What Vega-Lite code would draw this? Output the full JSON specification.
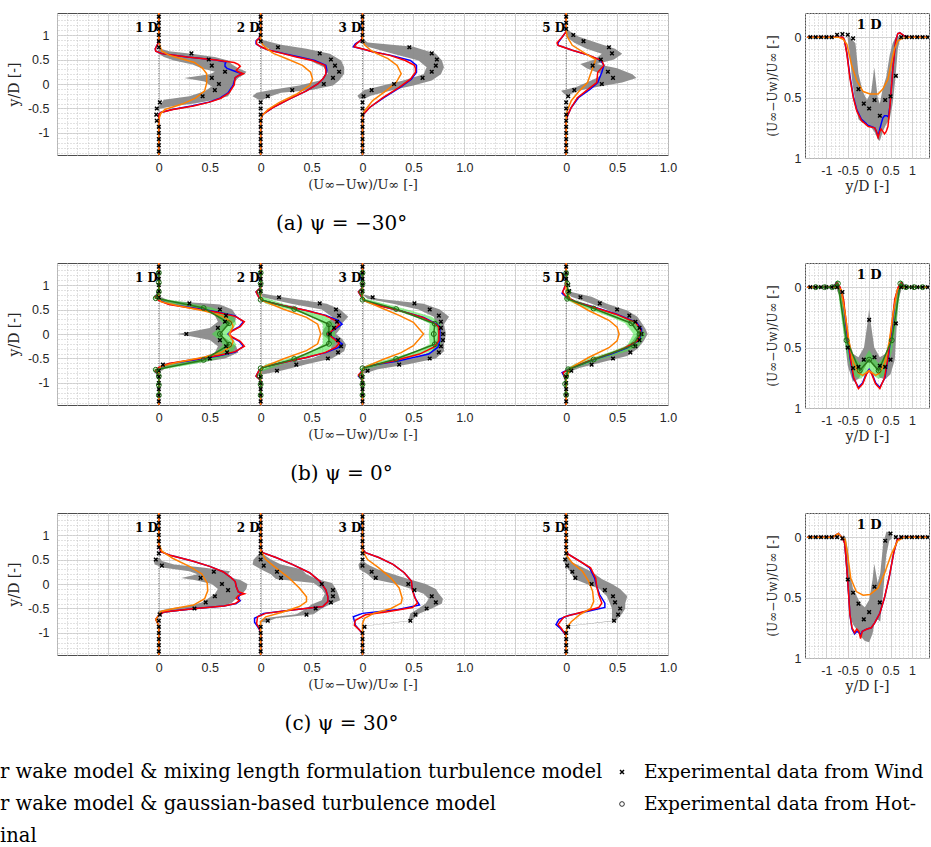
{
"$schema": "https://vega.github.io/schema/vega-lite/v6.json",
"padding": {"left": 0, "top": 9, "right": 0, "bottom": 0},
"config": {
 "view": {"stroke": "#4d4d4d", "strokeWidth": 1},
 "axis": {"labelFont": "Liberation Sans", "labelFontSize": 12.5, "labelColor": "#262626", "titleFont": "DejaVu Serif", "titleFontWeight": "normal", "titleColor": "#262626", "titleFontSize": 13},
 "title": {"font": "DejaVu Serif", "fontWeight": "normal", "color": "#000000"}
},
"datasets": {
 "lab": [{"d":1,"t":"1 D"},{"d":2,"t":"2 D"},{"d":3,"t":"3 D"},{"d":5,"t":"5 D"}],
 "leg": [{"c":0,"r":0,"t":"r wake model & mixing length formulation turbulence model"},{"c":0,"r":1,"t":"r wake model & gaussian-based turbulence model"},{"c":0,"r":2,"t":"inal"},{"c":1,"r":0,"t":"Experimental data from Wind","s":"x"},{"c":1,"r":1,"t":"Experimental data from Hot-W","s":"o"}],
 "a1": [
{"k":"G","y":-0.5,"v":-0.02,"h":0.02},{"k":"G","y":-0.45,"v":0,"h":0.15},{"k":"G","y":-0.4,"v":0.02,"h":0.35},{"k":"G","y":-0.32,"v":0.05,"h":0.55},{"k":"G","y":-0.25,"v":0.3,"h":0.68},{"k":"G","y":-0.15,"v":0.45,"h":0.71},{"k":"G","y":-0.05,"v":0.52,"h":0.71},{"k":"G","y":0.05,"v":0.45,"h":0.75},{"k":"G","y":0.12,"v":0.25,"h":0.78},{"k":"G","y":0.2,"v":0.5,"h":0.84},{"k":"G","y":0.25,"v":0.55,"h":0.86},{"k":"G","y":0.32,"v":0.42,"h":0.78},{"k":"G","y":0.4,"v":0.33,"h":0.72},{"k":"G","y":0.48,"v":0.15,"h":0.68},{"k":"G","y":0.55,"v":0.05,"h":0.55},{"k":"G","y":0.62,"v":0,"h":0.32},{"k":"G","y":0.67,"v":-0.01,"h":0.1},{"k":"G","y":0.72,"v":0,"h":0.02},
{"k":"b","y":-1.45,"v":0},{"k":"b","y":-0.62,"v":0},{"k":"b","y":-0.58,"v":0.02},{"k":"b","y":-0.52,"v":0.13},{"k":"b","y":-0.45,"v":0.32},{"k":"b","y":-0.37,"v":0.49},{"k":"b","y":-0.29,"v":0.6},{"k":"b","y":-0.18,"v":0.68},{"k":"b","y":-0.02,"v":0.73},{"k":"b","y":0.13,"v":0.75},{"k":"b","y":0.17,"v":0.78},{"k":"b","y":0.21,"v":0.82},{"k":"b","y":0.25,"v":0.76},{"k":"b","y":0.28,"v":0.72},{"k":"b","y":0.32,"v":0.67},{"k":"b","y":0.36,"v":0.65},{"k":"b","y":0.41,"v":0.65},{"k":"b","y":0.45,"v":0.66},{"k":"b","y":0.49,"v":0.56},{"k":"b","y":0.55,"v":0.28},{"k":"b","y":0.62,"v":0.03},{"k":"b","y":0.67,"v":-0.03},{"k":"b","y":0.72,"v":-0.035},{"k":"b","y":0.82,"v":-0.01},{"k":"b","y":0.95,"v":0},{"k":"b","y":1.45,"v":0},
{"k":"r","y":-1.45,"v":0},{"k":"r","y":-0.62,"v":0},{"k":"r","y":-0.58,"v":0.02},{"k":"r","y":-0.52,"v":0.14},{"k":"r","y":-0.45,"v":0.34},{"k":"r","y":-0.37,"v":0.5},{"k":"r","y":-0.29,"v":0.61},{"k":"r","y":-0.18,"v":0.69},{"k":"r","y":-0.02,"v":0.74},{"k":"r","y":0.13,"v":0.75},{"k":"r","y":0.17,"v":0.78},{"k":"r","y":0.21,"v":0.83},{"k":"r","y":0.25,"v":0.78},{"k":"r","y":0.28,"v":0.76},{"k":"r","y":0.32,"v":0.78},{"k":"r","y":0.36,"v":0.8},{"k":"r","y":0.4,"v":0.78},{"k":"r","y":0.44,"v":0.74},{"k":"r","y":0.49,"v":0.56},{"k":"r","y":0.55,"v":0.28},{"k":"r","y":0.62,"v":0.03},{"k":"r","y":0.67,"v":-0.03},{"k":"r","y":0.72,"v":-0.035},{"k":"r","y":0.82,"v":-0.01},{"k":"r","y":0.95,"v":0},{"k":"r","y":1.45,"v":0},
{"k":"o","y":-1.45,"v":0},{"k":"o","y":-0.72,"v":0},{"k":"o","y":-0.6,"v":0.02},{"k":"o","y":-0.52,"v":0.06},{"k":"o","y":-0.41,"v":0.23},{"k":"o","y":-0.29,"v":0.36},{"k":"o","y":-0.14,"v":0.45},{"k":"o","y":0.02,"v":0.47},{"k":"o","y":0.21,"v":0.47},{"k":"o","y":0.32,"v":0.43},{"k":"o","y":0.44,"v":0.35},{"k":"o","y":0.51,"v":0.23},{"k":"o","y":0.59,"v":0.1},{"k":"o","y":0.67,"v":0.03},{"k":"o","y":0.78,"v":0.01},{"k":"o","y":0.9,"v":0},{"k":"o","y":1.45,"v":0},
{"k":"x","y":-1.375,"v":0},{"k":"x","y":-1.25,"v":0},{"k":"x","y":-1.125,"v":0},{"k":"x","y":-1,"v":0},{"k":"x","y":-0.875,"v":0},{"k":"x","y":-0.75,"v":-0.02},{"k":"x","y":-0.625,"v":-0.025},{"k":"x","y":-0.5,"v":-0.02},{"k":"x","y":-0.375,"v":0.01},{"k":"x","y":-0.25,"v":0.43},{"k":"x","y":-0.125,"v":0.55},{"k":"x","y":0,"v":0.59},{"k":"x","y":0.125,"v":0.52},{"k":"x","y":0.25,"v":0.65},{"k":"x","y":0.375,"v":0.52},{"k":"x","y":0.5,"v":0.49},{"k":"x","y":0.625,"v":0.32},{"k":"x","y":0.75,"v":0},{"k":"x","y":0.875,"v":0},{"k":"x","y":1,"v":0},{"k":"x","y":1.125,"v":0},{"k":"x","y":1.25,"v":0},{"k":"x","y":1.375,"v":0}
 ],
 "a2": [
{"k":"G","y":0.9,"v":0,"h":0.02},{"k":"G","y":0.8,"v":0.02,"h":0.2},{"k":"G","y":0.72,"v":0.08,"h":0.45},{"k":"G","y":0.62,"v":0.22,"h":0.68},{"k":"G","y":0.48,"v":0.48,"h":0.79},{"k":"G","y":0.34,"v":0.62,"h":0.82},{"k":"G","y":0.21,"v":0.66,"h":0.82},{"k":"G","y":0.07,"v":0.58,"h":0.77},{"k":"G","y":-0.03,"v":0.38,"h":0.71},{"k":"G","y":-0.12,"v":0.1,"h":0.5},{"k":"G","y":-0.18,"v":-0.04,"h":0.2},{"k":"G","y":-0.25,"v":-0.08,"h":0.1},{"k":"G","y":-0.32,"v":-0.02,"h":0.02},
{"k":"b","y":-1.45,"v":0},{"k":"b","y":-0.74,"v":0},{"k":"b","y":-0.62,"v":0.02},{"k":"b","y":-0.48,"v":0.12},{"k":"b","y":-0.31,"v":0.28},{"k":"b","y":-0.14,"v":0.45},{"k":"b","y":0,"v":0.56},{"k":"b","y":0.1,"v":0.61},{"k":"b","y":0.2,"v":0.64},{"k":"b","y":0.28,"v":0.65},{"k":"b","y":0.38,"v":0.64},{"k":"b","y":0.48,"v":0.53},{"k":"b","y":0.55,"v":0.38},{"k":"b","y":0.62,"v":0.23},{"k":"b","y":0.7,"v":0.07},{"k":"b","y":0.76,"v":0},{"k":"b","y":0.82,"v":-0.045},{"k":"b","y":0.88,"v":-0.045},{"k":"b","y":0.95,"v":-0.01},{"k":"b","y":1.02,"v":0},{"k":"b","y":1.45,"v":0},
{"k":"r","y":-1.45,"v":0},{"k":"r","y":-0.74,"v":0},{"k":"r","y":-0.62,"v":0.02},{"k":"r","y":-0.48,"v":0.12},{"k":"r","y":-0.31,"v":0.28},{"k":"r","y":-0.14,"v":0.45},{"k":"r","y":0,"v":0.56},{"k":"r","y":0.1,"v":0.61},{"k":"r","y":0.2,"v":0.64},{"k":"r","y":0.28,"v":0.64},{"k":"r","y":0.38,"v":0.63},{"k":"r","y":0.48,"v":0.51},{"k":"r","y":0.55,"v":0.35},{"k":"r","y":0.62,"v":0.22},{"k":"r","y":0.7,"v":0.07},{"k":"r","y":0.76,"v":0},{"k":"r","y":0.82,"v":-0.04},{"k":"r","y":0.88,"v":-0.04},{"k":"r","y":0.95,"v":-0.01},{"k":"r","y":1.02,"v":0},{"k":"r","y":1.45,"v":0},
{"k":"o","y":-1.45,"v":0},{"k":"o","y":-0.72,"v":0},{"k":"o","y":-0.66,"v":0.01},{"k":"o","y":-0.52,"v":0.07},{"k":"o","y":-0.38,"v":0.18},{"k":"o","y":-0.21,"v":0.35},{"k":"o","y":-0.03,"v":0.48},{"k":"o","y":0.1,"v":0.51},{"k":"o","y":0.24,"v":0.49},{"k":"o","y":0.38,"v":0.41},{"k":"o","y":0.52,"v":0.25},{"k":"o","y":0.62,"v":0.13},{"k":"o","y":0.69,"v":0.08},{"k":"o","y":0.8,"v":0.02},{"k":"o","y":0.9,"v":0},{"k":"o","y":1.45,"v":0},
{"k":"x","y":-1.375,"v":0},{"k":"x","y":-1.25,"v":0},{"k":"x","y":-1.125,"v":0},{"k":"x","y":-1,"v":0},{"k":"x","y":-0.875,"v":0},{"k":"x","y":-0.75,"v":0},{"k":"x","y":-0.625,"v":0},{"k":"x","y":-0.5,"v":0},{"k":"x","y":-0.375,"v":0},{"k":"x","y":-0.25,"v":0.07},{"k":"x","y":-0.125,"v":0.31},{"k":"x","y":0,"v":0.62},{"k":"x","y":0.125,"v":0.71},{"k":"x","y":0.25,"v":0.77},{"k":"x","y":0.375,"v":0.73},{"k":"x","y":0.5,"v":0.69},{"k":"x","y":0.625,"v":0.58},{"k":"x","y":0.75,"v":0.17},{"k":"x","y":0.875,"v":0},{"k":"x","y":1,"v":0},{"k":"x","y":1.125,"v":0},{"k":"x","y":1.25,"v":0},{"k":"x","y":1.375,"v":0}
 ],
 "a3": [
{"k":"G","y":0.9,"v":0,"h":0.02},{"k":"G","y":0.85,"v":0,"h":0.05},{"k":"G","y":0.76,"v":0.05,"h":0.5},{"k":"G","y":0.62,"v":0.3,"h":0.72},{"k":"G","y":0.48,"v":0.55,"h":0.78},{"k":"G","y":0.34,"v":0.63,"h":0.8},{"k":"G","y":0.2,"v":0.6,"h":0.77},{"k":"G","y":0.07,"v":0.4,"h":0.68},{"k":"G","y":-0.03,"v":0.2,"h":0.5},{"k":"G","y":-0.12,"v":0.02,"h":0.3},{"k":"G","y":-0.24,"v":-0.05,"h":0.08},{"k":"G","y":-0.3,"v":-0.03,"h":0.02},
{"k":"b","y":-1.45,"v":0},{"k":"b","y":-0.7,"v":0},{"k":"b","y":-0.62,"v":0.01},{"k":"b","y":-0.48,"v":0.07},{"k":"b","y":-0.28,"v":0.21},{"k":"b","y":-0.07,"v":0.37},{"k":"b","y":0.1,"v":0.48},{"k":"b","y":0.24,"v":0.53},{"k":"b","y":0.32,"v":0.53},{"k":"b","y":0.38,"v":0.53},{"k":"b","y":0.48,"v":0.47},{"k":"b","y":0.59,"v":0.27},{"k":"b","y":0.66,"v":0.1},{"k":"b","y":0.7,"v":0.03},{"k":"b","y":0.76,"v":-0.09},{"k":"b","y":0.82,"v":-0.07},{"k":"b","y":0.9,"v":-0.01},{"k":"b","y":1,"v":0},{"k":"b","y":1.45,"v":0},
{"k":"r","y":-1.45,"v":0},{"k":"r","y":-0.7,"v":0},{"k":"r","y":-0.62,"v":0.01},{"k":"r","y":-0.48,"v":0.07},{"k":"r","y":-0.28,"v":0.2},{"k":"r","y":-0.07,"v":0.36},{"k":"r","y":0.1,"v":0.47},{"k":"r","y":0.24,"v":0.52},{"k":"r","y":0.32,"v":0.52},{"k":"r","y":0.38,"v":0.51},{"k":"r","y":0.48,"v":0.42},{"k":"r","y":0.59,"v":0.26},{"k":"r","y":0.66,"v":0.1},{"k":"r","y":0.7,"v":0.03},{"k":"r","y":0.76,"v":-0.08},{"k":"r","y":0.82,"v":-0.06},{"k":"r","y":0.9,"v":-0.01},{"k":"r","y":1,"v":0},{"k":"r","y":1.45,"v":0},
{"k":"o","y":-1.45,"v":0},{"k":"o","y":-0.62,"v":0},{"k":"o","y":-0.55,"v":0.02},{"k":"o","y":-0.34,"v":0.1},{"k":"o","y":-0.14,"v":0.23},{"k":"o","y":0.03,"v":0.33},{"k":"o","y":0.21,"v":0.38},{"k":"o","y":0.38,"v":0.34},{"k":"o","y":0.52,"v":0.25},{"k":"o","y":0.62,"v":0.14},{"k":"o","y":0.69,"v":0.08},{"k":"o","y":0.8,"v":0.02},{"k":"o","y":0.9,"v":0},{"k":"o","y":1.45,"v":0},
{"k":"x","y":-1.375,"v":0},{"k":"x","y":-1.25,"v":0},{"k":"x","y":-1.125,"v":0},{"k":"x","y":-1,"v":0},{"k":"x","y":-0.875,"v":0},{"k":"x","y":-0.75,"v":0},{"k":"x","y":-0.625,"v":0},{"k":"x","y":-0.5,"v":0},{"k":"x","y":-0.375,"v":0},{"k":"x","y":-0.25,"v":0.01},{"k":"x","y":-0.125,"v":0.09},{"k":"x","y":0,"v":0.31},{"k":"x","y":0.125,"v":0.59},{"k":"x","y":0.25,"v":0.68},{"k":"x","y":0.375,"v":0.72},{"k":"x","y":0.5,"v":0.73},{"k":"x","y":0.625,"v":0.68},{"k":"x","y":0.75,"v":0.46},{"k":"x","y":0.875,"v":0},{"k":"x","y":1,"v":0},{"k":"x","y":1.125,"v":0},{"k":"x","y":1.25,"v":0},{"k":"x","y":1.375,"v":0}
 ],
 "a5": [
{"k":"G","y":1.1,"v":0,"h":0.02},{"k":"G","y":0.97,"v":0,"h":0.12},{"k":"G","y":0.84,"v":0.08,"h":0.3},{"k":"G","y":0.72,"v":0.2,"h":0.48},{"k":"G","y":0.62,"v":0.35,"h":0.55},{"k":"G","y":0.5,"v":0.28,"h":0.47},{"k":"G","y":0.41,"v":0.14,"h":0.3},{"k":"G","y":0.32,"v":0.2,"h":0.5},{"k":"G","y":0.2,"v":0.35,"h":0.65},{"k":"G","y":0.12,"v":0.3,"h":0.69},{"k":"G","y":0.03,"v":0.2,"h":0.55},{"k":"G","y":-0.06,"v":0.1,"h":0.3},{"k":"G","y":-0.14,"v":-0.05,"h":0.12},{"k":"G","y":-0.22,"v":-0.01,"h":0.03},
{"k":"b","y":-1.45,"v":0},{"k":"b","y":-0.75,"v":0},{"k":"b","y":-0.66,"v":0.01},{"k":"b","y":-0.48,"v":0.05},{"k":"b","y":-0.28,"v":0.12},{"k":"b","y":-0.1,"v":0.24},{"k":"b","y":0.03,"v":0.31},{"k":"b","y":0.24,"v":0.35},{"k":"b","y":0.38,"v":0.37},{"k":"b","y":0.48,"v":0.34},{"k":"b","y":0.59,"v":0.22},{"k":"b","y":0.69,"v":0.06},{"k":"b","y":0.79,"v":-0.08},{"k":"b","y":0.84,"v":-0.08},{"k":"b","y":0.97,"v":-0.035},{"k":"b","y":1.07,"v":0},{"k":"b","y":1.45,"v":0},
{"k":"r","y":-1.45,"v":0},{"k":"r","y":-0.75,"v":0},{"k":"r","y":-0.66,"v":0.01},{"k":"r","y":-0.48,"v":0.05},{"k":"r","y":-0.28,"v":0.11},{"k":"r","y":-0.1,"v":0.22},{"k":"r","y":0.03,"v":0.3},{"k":"r","y":0.24,"v":0.31},{"k":"r","y":0.38,"v":0.37},{"k":"r","y":0.48,"v":0.35},{"k":"r","y":0.59,"v":0.22},{"k":"r","y":0.69,"v":0.06},{"k":"r","y":0.79,"v":-0.08},{"k":"r","y":0.84,"v":-0.09},{"k":"r","y":0.97,"v":-0.035},{"k":"r","y":1.07,"v":0},{"k":"r","y":1.45,"v":0},
{"k":"o","y":-1.45,"v":0},{"k":"o","y":-0.65,"v":0},{"k":"o","y":-0.55,"v":0.01},{"k":"o","y":-0.34,"v":0.05},{"k":"o","y":-0.14,"v":0.13},{"k":"o","y":0.03,"v":0.21},{"k":"o","y":0.21,"v":0.24},{"k":"o","y":0.38,"v":0.27},{"k":"o","y":0.5,"v":0.29},{"k":"o","y":0.62,"v":0.19},{"k":"o","y":0.79,"v":0.06},{"k":"o","y":0.97,"v":0.01},{"k":"o","y":1.1,"v":0},{"k":"o","y":1.45,"v":0},
{"k":"x","y":-1.375,"v":0},{"k":"x","y":-1.25,"v":0},{"k":"x","y":-1.125,"v":0},{"k":"x","y":-1,"v":0},{"k":"x","y":-0.875,"v":0},{"k":"x","y":-0.75,"v":0},{"k":"x","y":-0.625,"v":0},{"k":"x","y":-0.5,"v":0},{"k":"x","y":-0.375,"v":0},{"k":"x","y":-0.25,"v":0.02},{"k":"x","y":-0.125,"v":0.08},{"k":"x","y":0,"v":0.35},{"k":"x","y":0.125,"v":0.46},{"k":"x","y":0.25,"v":0.41},{"k":"x","y":0.375,"v":0.26},{"k":"x","y":0.5,"v":0.34},{"k":"x","y":0.625,"v":0.45},{"k":"x","y":0.75,"v":0.42},{"k":"x","y":0.875,"v":0.17},{"k":"x","y":1,"v":0.07},{"k":"x","y":1.125,"v":0},{"k":"x","y":1.25,"v":0},{"k":"x","y":1.375,"v":0}
 ],
 "b1": [
{"k":"G","y":-0.75,"v":-0.02,"h":0.03},{"k":"G","y":-0.68,"v":0,"h":0.08},{"k":"G","y":-0.6,"v":0.05,"h":0.35},{"k":"G","y":-0.5,"v":0.4,"h":0.65},{"k":"G","y":-0.38,"v":0.55,"h":0.78},{"k":"G","y":-0.25,"v":0.58,"h":0.76},{"k":"G","y":-0.12,"v":0.5,"h":0.68},{"k":"G","y":-0.04,"v":0.3,"h":0.62},{"k":"G","y":0,"v":0.18,"h":0.62},{"k":"G","y":0.04,"v":0.3,"h":0.6},{"k":"G","y":0.12,"v":0.5,"h":0.65},{"k":"G","y":0.25,"v":0.58,"h":0.75},{"k":"G","y":0.38,"v":0.55,"h":0.76},{"k":"G","y":0.5,"v":0.45,"h":0.72},{"k":"G","y":0.6,"v":0.15,"h":0.6},{"k":"G","y":0.68,"v":0,"h":0.1},{"k":"G","y":0.75,"v":-0.02,"h":0.03},
{"k":"E","y":-0.8,"v":-0.04,"h":0.02},{"k":"E","y":-0.73,"v":-0.06,"h":0.01},{"k":"E","y":-0.65,"v":0.05,"h":0.25},{"k":"E","y":-0.54,"v":0.36,"h":0.52},{"k":"E","y":-0.4,"v":0.55,"h":0.72},{"k":"E","y":-0.22,"v":0.63,"h":0.76},{"k":"E","y":-0.1,"v":0.58,"h":0.73},{"k":"E","y":0,"v":0.52,"h":0.68},{"k":"E","y":0.1,"v":0.58,"h":0.73},{"k":"E","y":0.22,"v":0.63,"h":0.76},{"k":"E","y":0.4,"v":0.55,"h":0.72},{"k":"E","y":0.54,"v":0.36,"h":0.52},{"k":"E","y":0.65,"v":0.05,"h":0.25},{"k":"E","y":0.73,"v":-0.06,"h":0.01},{"k":"E","y":0.8,"v":-0.04,"h":0.02},
{"k":"b","y":-1.45,"v":0},{"k":"b","y":-0.86,"v":0},{"k":"b","y":-0.76,"v":-0.035},{"k":"b","y":-0.69,"v":0},{"k":"b","y":-0.61,"v":0.1},{"k":"b","y":-0.53,"v":0.34},{"k":"b","y":-0.45,"v":0.58},{"k":"b","y":-0.37,"v":0.75},{"k":"b","y":-0.25,"v":0.83},{"k":"b","y":-0.15,"v":0.79},{"k":"b","y":-0.06,"v":0.71},{"k":"b","y":0,"v":0.68},{"k":"b","y":0.06,"v":0.71},{"k":"b","y":0.15,"v":0.79},{"k":"b","y":0.25,"v":0.83},{"k":"b","y":0.37,"v":0.75},{"k":"b","y":0.45,"v":0.58},{"k":"b","y":0.53,"v":0.34},{"k":"b","y":0.61,"v":0.1},{"k":"b","y":0.69,"v":0},{"k":"b","y":0.76,"v":-0.035},{"k":"b","y":0.86,"v":0},{"k":"b","y":1.45,"v":0},
{"k":"r","y":-1.45,"v":0},{"k":"r","y":-0.85,"v":0},{"k":"r","y":-0.75,"v":-0.035},{"k":"r","y":-0.68,"v":0},{"k":"r","y":-0.6,"v":0.1},{"k":"r","y":-0.52,"v":0.34},{"k":"r","y":-0.44,"v":0.58},{"k":"r","y":-0.36,"v":0.75},{"k":"r","y":-0.25,"v":0.84},{"k":"r","y":-0.15,"v":0.8},{"k":"r","y":-0.06,"v":0.72},{"k":"r","y":0,"v":0.69},{"k":"r","y":0.06,"v":0.72},{"k":"r","y":0.15,"v":0.8},{"k":"r","y":0.25,"v":0.84},{"k":"r","y":0.36,"v":0.75},{"k":"r","y":0.44,"v":0.58},{"k":"r","y":0.52,"v":0.34},{"k":"r","y":0.6,"v":0.1},{"k":"r","y":0.68,"v":0},{"k":"r","y":0.75,"v":-0.035},{"k":"r","y":0.85,"v":0},{"k":"r","y":1.45,"v":0},
{"k":"o","y":-1.45,"v":0},{"k":"o","y":-0.75,"v":0},{"k":"o","y":-0.66,"v":0.02},{"k":"o","y":-0.57,"v":0.2},{"k":"o","y":-0.47,"v":0.45},{"k":"o","y":-0.37,"v":0.62},{"k":"o","y":-0.25,"v":0.71},{"k":"o","y":-0.15,"v":0.73},{"k":"o","y":0,"v":0.69},{"k":"o","y":0.15,"v":0.73},{"k":"o","y":0.25,"v":0.71},{"k":"o","y":0.37,"v":0.62},{"k":"o","y":0.47,"v":0.45},{"k":"o","y":0.57,"v":0.2},{"k":"o","y":0.66,"v":0.02},{"k":"o","y":0.75,"v":0},{"k":"o","y":1.45,"v":0},
{"k":"c","y":-1.25,"v":0},{"k":"c","y":-1.04,"v":0},{"k":"c","y":-0.86,"v":0},{"k":"c","y":-0.73,"v":-0.03},{"k":"c","y":-0.53,"v":0.44},{"k":"c","y":-0.22,"v":0.69},{"k":"c","y":0,"v":0.6},{"k":"c","y":0.22,"v":0.69},{"k":"c","y":0.53,"v":0.44},{"k":"c","y":0.73,"v":-0.03},{"k":"c","y":0.86,"v":0},{"k":"c","y":1.05,"v":0},{"k":"c","y":1.25,"v":0},
{"k":"x","y":-1.375,"v":0},{"k":"x","y":-1.25,"v":0},{"k":"x","y":-1.125,"v":0},{"k":"x","y":-1,"v":0},{"k":"x","y":-0.875,"v":0},{"k":"x","y":-0.75,"v":0},{"k":"x","y":-0.625,"v":0.04},{"k":"x","y":-0.5,"v":0.5},{"k":"x","y":-0.375,"v":0.67},{"k":"x","y":-0.25,"v":0.66},{"k":"x","y":-0.125,"v":0.6},{"k":"x","y":0,"v":0.27},{"k":"x","y":0.125,"v":0.58},{"k":"x","y":0.25,"v":0.65},{"k":"x","y":0.375,"v":0.66},{"k":"x","y":0.5,"v":0.6},{"k":"x","y":0.625,"v":0.3},{"k":"x","y":0.75,"v":0},{"k":"x","y":0.875,"v":0},{"k":"x","y":1,"v":0},{"k":"x","y":1.125,"v":0},{"k":"x","y":1.25,"v":0},{"k":"x","y":1.375,"v":0}
 ],
 "b2": [
{"k":"G","y":0.82,"v":0,"h":0.03},{"k":"G","y":0.75,"v":0.02,"h":0.22},{"k":"G","y":0.62,"v":0.3,"h":0.65},{"k":"G","y":0.5,"v":0.6,"h":0.78},{"k":"G","y":0.35,"v":0.7,"h":0.86},{"k":"G","y":0.22,"v":0.66,"h":0.8},{"k":"G","y":0.1,"v":0.62,"h":0.78},{"k":"G","y":0,"v":0.6,"h":0.74},{"k":"G","y":-0.1,"v":0.66,"h":0.8},{"k":"G","y":-0.22,"v":0.7,"h":0.84},{"k":"G","y":-0.35,"v":0.68,"h":0.82},{"k":"G","y":-0.5,"v":0.5,"h":0.7},{"k":"G","y":-0.62,"v":0.15,"h":0.45},{"k":"G","y":-0.75,"v":0,"h":0.2},{"k":"G","y":-0.82,"v":0,"h":0.03},
{"k":"E","y":-0.75,"v":-0.03,"h":0.03},{"k":"E","y":-0.62,"v":0.05,"h":0.22},{"k":"E","y":-0.51,"v":0.26,"h":0.41},{"k":"E","y":-0.35,"v":0.52,"h":0.65},{"k":"E","y":-0.2,"v":0.61,"h":0.73},{"k":"E","y":0,"v":0.61,"h":0.73},{"k":"E","y":0.2,"v":0.61,"h":0.73},{"k":"E","y":0.35,"v":0.52,"h":0.65},{"k":"E","y":0.51,"v":0.26,"h":0.41},{"k":"E","y":0.62,"v":0.05,"h":0.22},{"k":"E","y":0.75,"v":-0.03,"h":0.03},
{"k":"b","y":-1.45,"v":0},{"k":"b","y":-0.95,"v":0},{"k":"b","y":-0.86,"v":-0.045},{"k":"b","y":-0.76,"v":-0.02},{"k":"b","y":-0.68,"v":0.02},{"k":"b","y":-0.58,"v":0.22},{"k":"b","y":-0.48,"v":0.45},{"k":"b","y":-0.38,"v":0.64},{"k":"b","y":-0.28,"v":0.76},{"k":"b","y":-0.2,"v":0.8},{"k":"b","y":-0.1,"v":0.73},{"k":"b","y":0,"v":0.66},{"k":"b","y":0.1,"v":0.73},{"k":"b","y":0.2,"v":0.8},{"k":"b","y":0.28,"v":0.76},{"k":"b","y":0.38,"v":0.64},{"k":"b","y":0.48,"v":0.45},{"k":"b","y":0.58,"v":0.22},{"k":"b","y":0.68,"v":0.02},{"k":"b","y":0.76,"v":-0.02},{"k":"b","y":0.86,"v":-0.045},{"k":"b","y":0.95,"v":0},{"k":"b","y":1.45,"v":0},
{"k":"r","y":-1.45,"v":0},{"k":"r","y":-0.95,"v":0},{"k":"r","y":-0.86,"v":-0.045},{"k":"r","y":-0.76,"v":-0.02},{"k":"r","y":-0.68,"v":0.02},{"k":"r","y":-0.58,"v":0.22},{"k":"r","y":-0.48,"v":0.45},{"k":"r","y":-0.38,"v":0.63},{"k":"r","y":-0.27,"v":0.74},{"k":"r","y":-0.19,"v":0.77},{"k":"r","y":-0.1,"v":0.72},{"k":"r","y":0,"v":0.66},{"k":"r","y":0.1,"v":0.72},{"k":"r","y":0.19,"v":0.77},{"k":"r","y":0.27,"v":0.74},{"k":"r","y":0.38,"v":0.63},{"k":"r","y":0.48,"v":0.45},{"k":"r","y":0.58,"v":0.22},{"k":"r","y":0.68,"v":0.02},{"k":"r","y":0.76,"v":-0.02},{"k":"r","y":0.86,"v":-0.045},{"k":"r","y":0.95,"v":0},{"k":"r","y":1.45,"v":0},
{"k":"o","y":-1.45,"v":0},{"k":"o","y":-0.75,"v":0},{"k":"o","y":-0.68,"v":0.02},{"k":"o","y":-0.51,"v":0.22},{"k":"o","y":-0.34,"v":0.45},{"k":"o","y":-0.2,"v":0.56},{"k":"o","y":0,"v":0.59},{"k":"o","y":0.2,"v":0.56},{"k":"o","y":0.34,"v":0.45},{"k":"o","y":0.51,"v":0.22},{"k":"o","y":0.68,"v":0.02},{"k":"o","y":0.75,"v":0},{"k":"o","y":1.45,"v":0},
{"k":"c","y":-1.25,"v":0},{"k":"c","y":-1.03,"v":0},{"k":"c","y":-0.86,"v":-0.01},{"k":"c","y":-0.7,"v":0},{"k":"c","y":-0.51,"v":0.33},{"k":"c","y":-0.2,"v":0.67},{"k":"c","y":0,"v":0.67},{"k":"c","y":0.2,"v":0.67},{"k":"c","y":0.51,"v":0.33},{"k":"c","y":0.7,"v":0},{"k":"c","y":0.86,"v":-0.01},{"k":"c","y":1.03,"v":0},{"k":"c","y":1.25,"v":0},
{"k":"x","y":-1.375,"v":0},{"k":"x","y":-1.25,"v":0},{"k":"x","y":-1.125,"v":0},{"k":"x","y":-1,"v":0},{"k":"x","y":-0.875,"v":0},{"k":"x","y":-0.75,"v":0.16},{"k":"x","y":-0.625,"v":0.35},{"k":"x","y":-0.5,"v":0.66},{"k":"x","y":-0.375,"v":0.76},{"k":"x","y":-0.25,"v":0.79},{"k":"x","y":-0.125,"v":0.76},{"k":"x","y":0,"v":0.68},{"k":"x","y":0.125,"v":0.72},{"k":"x","y":0.25,"v":0.75},{"k":"x","y":0.375,"v":0.77},{"k":"x","y":0.5,"v":0.74},{"k":"x","y":0.625,"v":0.58},{"k":"x","y":0.75,"v":0.18},{"k":"x","y":0.875,"v":0},{"k":"x","y":1,"v":0},{"k":"x","y":1.125,"v":0},{"k":"x","y":1.25,"v":0},{"k":"x","y":1.375,"v":0}
 ],
 "b3": [
{"k":"G","y":-0.8,"v":0,"h":0.03},{"k":"G","y":-0.72,"v":0,"h":0.15},{"k":"G","y":-0.62,"v":0.15,"h":0.45},{"k":"G","y":-0.5,"v":0.5,"h":0.72},{"k":"G","y":-0.35,"v":0.68,"h":0.8},{"k":"G","y":-0.2,"v":0.72,"h":0.8},{"k":"G","y":0,"v":0.74,"h":0.82},{"k":"G","y":0.2,"v":0.72,"h":0.8},{"k":"G","y":0.35,"v":0.7,"h":0.85},{"k":"G","y":0.5,"v":0.55,"h":0.76},{"k":"G","y":0.62,"v":0.3,"h":0.6},{"k":"G","y":0.72,"v":0.05,"h":0.15},{"k":"G","y":0.8,"v":0,"h":0.03},
{"k":"E","y":-0.72,"v":-0.03,"h":0.03},{"k":"E","y":-0.62,"v":0.06,"h":0.22},{"k":"E","y":-0.51,"v":0.26,"h":0.42},{"k":"E","y":-0.35,"v":0.52,"h":0.68},{"k":"E","y":-0.21,"v":0.66,"h":0.77},{"k":"E","y":0,"v":0.65,"h":0.76},{"k":"E","y":0.21,"v":0.66,"h":0.77},{"k":"E","y":0.35,"v":0.52,"h":0.68},{"k":"E","y":0.51,"v":0.26,"h":0.42},{"k":"E","y":0.62,"v":0.06,"h":0.22},{"k":"E","y":0.72,"v":-0.03,"h":0.03},
{"k":"b","y":-1.45,"v":0},{"k":"b","y":-0.95,"v":0},{"k":"b","y":-0.86,"v":-0.04},{"k":"b","y":-0.76,"v":-0.01},{"k":"b","y":-0.68,"v":0.02},{"k":"b","y":-0.62,"v":0.15},{"k":"b","y":-0.55,"v":0.35},{"k":"b","y":-0.41,"v":0.65},{"k":"b","y":-0.27,"v":0.74},{"k":"b","y":-0.14,"v":0.76},{"k":"b","y":0,"v":0.76},{"k":"b","y":0.14,"v":0.76},{"k":"b","y":0.2,"v":0.73},{"k":"b","y":0.34,"v":0.6},{"k":"b","y":0.48,"v":0.36},{"k":"b","y":0.58,"v":0.16},{"k":"b","y":0.68,"v":0.02},{"k":"b","y":0.76,"v":-0.01},{"k":"b","y":0.86,"v":-0.04},{"k":"b","y":0.95,"v":0},{"k":"b","y":1.45,"v":0},
{"k":"r","y":-1.45,"v":0},{"k":"r","y":-0.95,"v":0},{"k":"r","y":-0.84,"v":-0.04},{"k":"r","y":-0.75,"v":0},{"k":"r","y":-0.68,"v":0.02},{"k":"r","y":-0.62,"v":0.14},{"k":"r","y":-0.55,"v":0.3},{"k":"r","y":-0.41,"v":0.56},{"k":"r","y":-0.27,"v":0.7},{"k":"r","y":-0.14,"v":0.75},{"k":"r","y":0,"v":0.75},{"k":"r","y":0.14,"v":0.75},{"k":"r","y":0.2,"v":0.72},{"k":"r","y":0.34,"v":0.59},{"k":"r","y":0.48,"v":0.36},{"k":"r","y":0.58,"v":0.16},{"k":"r","y":0.68,"v":0.02},{"k":"r","y":0.76,"v":-0.01},{"k":"r","y":0.86,"v":-0.04},{"k":"r","y":0.95,"v":0},{"k":"r","y":1.45,"v":0},
{"k":"o","y":-1.45,"v":0},{"k":"o","y":-0.75,"v":0},{"k":"o","y":-0.68,"v":0.02},{"k":"o","y":-0.52,"v":0.2},{"k":"o","y":-0.38,"v":0.38},{"k":"o","y":-0.24,"v":0.5},{"k":"o","y":0,"v":0.6},{"k":"o","y":0.24,"v":0.5},{"k":"o","y":0.38,"v":0.36},{"k":"o","y":0.52,"v":0.2},{"k":"o","y":0.68,"v":0.02},{"k":"o","y":0.75,"v":0},{"k":"o","y":1.45,"v":0},
{"k":"c","y":-1.25,"v":0},{"k":"c","y":-1.03,"v":0},{"k":"c","y":-0.86,"v":-0.01},{"k":"c","y":-0.7,"v":0},{"k":"c","y":-0.51,"v":0.33},{"k":"c","y":-0.21,"v":0.71},{"k":"c","y":0,"v":0.7},{"k":"c","y":0.21,"v":0.71},{"k":"c","y":0.51,"v":0.33},{"k":"c","y":0.7,"v":0},{"k":"c","y":0.86,"v":-0.01},{"k":"c","y":1.03,"v":0},{"k":"c","y":1.25,"v":0},
{"k":"x","y":-1.375,"v":0},{"k":"x","y":-1.25,"v":0},{"k":"x","y":-1.125,"v":0},{"k":"x","y":-1,"v":0},{"k":"x","y":-0.875,"v":0},{"k":"x","y":-0.75,"v":0.05},{"k":"x","y":-0.625,"v":0.36},{"k":"x","y":-0.5,"v":0.66},{"k":"x","y":-0.375,"v":0.75},{"k":"x","y":-0.25,"v":0.77},{"k":"x","y":-0.125,"v":0.79},{"k":"x","y":0,"v":0.79},{"k":"x","y":0.125,"v":0.77},{"k":"x","y":0.25,"v":0.77},{"k":"x","y":0.375,"v":0.75},{"k":"x","y":0.5,"v":0.66},{"k":"x","y":0.625,"v":0.51},{"k":"x","y":0.75,"v":0.1},{"k":"x","y":0.875,"v":0},{"k":"x","y":1,"v":0},{"k":"x","y":1.125,"v":0},{"k":"x","y":1.25,"v":0},{"k":"x","y":1.375,"v":0}
 ],
 "b5": [
{"k":"G","y":0.86,"v":0,"h":0.05},{"k":"G","y":0.76,"v":0.05,"h":0.25},{"k":"G","y":0.62,"v":0.25,"h":0.4},{"k":"G","y":0.48,"v":0.42,"h":0.6},{"k":"G","y":0.35,"v":0.55,"h":0.7},{"k":"G","y":0.2,"v":0.65,"h":0.75},{"k":"G","y":0.1,"v":0.7,"h":0.78},{"k":"G","y":0,"v":0.7,"h":0.8},{"k":"G","y":-0.15,"v":0.65,"h":0.76},{"k":"G","y":-0.3,"v":0.55,"h":0.7},{"k":"G","y":-0.45,"v":0.4,"h":0.6},{"k":"G","y":-0.55,"v":0.2,"h":0.4},{"k":"G","y":-0.7,"v":0,"h":0.12},{"k":"G","y":-0.78,"v":0,"h":0.03},
{"k":"E","y":-0.8,"v":-0.02,"h":0.04},{"k":"E","y":-0.72,"v":-0.01,"h":0.06},{"k":"E","y":-0.62,"v":0.08,"h":0.2},{"k":"E","y":-0.52,"v":0.2,"h":0.34},{"k":"E","y":-0.35,"v":0.45,"h":0.6},{"k":"E","y":-0.23,"v":0.6,"h":0.72},{"k":"E","y":0,"v":0.66,"h":0.78},{"k":"E","y":0.22,"v":0.58,"h":0.7},{"k":"E","y":0.35,"v":0.43,"h":0.58},{"k":"E","y":0.52,"v":0.2,"h":0.34},{"k":"E","y":0.62,"v":0.08,"h":0.2},{"k":"E","y":0.72,"v":-0.02,"h":0.05},{"k":"E","y":0.8,"v":-0.02,"h":0.03},
{"k":"b","y":-1.45,"v":0},{"k":"b","y":-1,"v":0},{"k":"b","y":-0.9,"v":-0.01},{"k":"b","y":-0.79,"v":-0.04},{"k":"b","y":-0.69,"v":0.06},{"k":"b","y":-0.55,"v":0.23},{"k":"b","y":-0.41,"v":0.44},{"k":"b","y":-0.28,"v":0.6},{"k":"b","y":-0.14,"v":0.71},{"k":"b","y":0,"v":0.74},{"k":"b","y":0.1,"v":0.74},{"k":"b","y":0.24,"v":0.69},{"k":"b","y":0.41,"v":0.49},{"k":"b","y":0.55,"v":0.27},{"k":"b","y":0.66,"v":0.09},{"k":"b","y":0.76,"v":0},{"k":"b","y":0.83,"v":-0.04},{"k":"b","y":0.93,"v":-0.02},{"k":"b","y":1.03,"v":0},{"k":"b","y":1.45,"v":0},
{"k":"r","y":-1.45,"v":0},{"k":"r","y":-1,"v":0},{"k":"r","y":-0.9,"v":-0.01},{"k":"r","y":-0.79,"v":-0.03},{"k":"r","y":-0.69,"v":0.06},{"k":"r","y":-0.55,"v":0.22},{"k":"r","y":-0.41,"v":0.42},{"k":"r","y":-0.28,"v":0.58},{"k":"r","y":-0.14,"v":0.7},{"k":"r","y":0,"v":0.73},{"k":"r","y":0.1,"v":0.73},{"k":"r","y":0.24,"v":0.68},{"k":"r","y":0.41,"v":0.48},{"k":"r","y":0.55,"v":0.26},{"k":"r","y":0.66,"v":0.09},{"k":"r","y":0.76,"v":0},{"k":"r","y":0.86,"v":-0.035},{"k":"r","y":0.93,"v":-0.02},{"k":"r","y":1.03,"v":0},{"k":"r","y":1.45,"v":0},
{"k":"o","y":-1.45,"v":0},{"k":"o","y":-0.9,"v":0},{"k":"o","y":-0.69,"v":0.045},{"k":"o","y":-0.48,"v":0.22},{"k":"o","y":-0.28,"v":0.42},{"k":"o","y":-0.14,"v":0.5},{"k":"o","y":0,"v":0.52},{"k":"o","y":0.14,"v":0.5},{"k":"o","y":0.28,"v":0.42},{"k":"o","y":0.48,"v":0.22},{"k":"o","y":0.69,"v":0.045},{"k":"o","y":0.9,"v":0},{"k":"o","y":1.45,"v":0},
{"k":"c","y":-1.24,"v":0},{"k":"c","y":-1.02,"v":-0.01},{"k":"c","y":-0.86,"v":0},{"k":"c","y":-0.72,"v":0.02},{"k":"c","y":-0.52,"v":0.27},{"k":"c","y":-0.23,"v":0.66},{"k":"c","y":0,"v":0.72},{"k":"c","y":0.22,"v":0.64},{"k":"c","y":0.52,"v":0.27},{"k":"c","y":0.72,"v":0.01},{"k":"c","y":0.86,"v":0.02},{"k":"c","y":1.03,"v":0.01},{"k":"c","y":1.24,"v":0},
{"k":"x","y":-1.375,"v":0},{"k":"x","y":-1.25,"v":0},{"k":"x","y":-1.125,"v":0},{"k":"x","y":-1,"v":0},{"k":"x","y":-0.875,"v":0},{"k":"x","y":-0.75,"v":0.05},{"k":"x","y":-0.625,"v":0.25},{"k":"x","y":-0.5,"v":0.46},{"k":"x","y":-0.375,"v":0.63},{"k":"x","y":-0.25,"v":0.68},{"k":"x","y":-0.125,"v":0.72},{"k":"x","y":0,"v":0.74},{"k":"x","y":0.125,"v":0.72},{"k":"x","y":0.25,"v":0.68},{"k":"x","y":0.375,"v":0.62},{"k":"x","y":0.5,"v":0.5},{"k":"x","y":0.625,"v":0.33},{"k":"x","y":0.75,"v":0.14},{"k":"x","y":0.875,"v":0.03},{"k":"x","y":1,"v":0.02},{"k":"x","y":1.125,"v":0},{"k":"x","y":1.25,"v":0},{"k":"x","y":1.375,"v":0}
 ],
 "c1": [
{"k":"G","y":-0.6,"v":-0.02,"h":0.02},{"k":"G","y":-0.55,"v":0,"h":0.2},{"k":"G","y":-0.5,"v":0.1,"h":0.45},{"k":"G","y":-0.45,"v":0.3,"h":0.65},{"k":"G","y":-0.38,"v":0.42,"h":0.72},{"k":"G","y":-0.3,"v":0.48,"h":0.76},{"k":"G","y":-0.2,"v":0.55,"h":0.82},{"k":"G","y":-0.1,"v":0.58,"h":0.86},{"k":"G","y":0,"v":0.52,"h":0.87},{"k":"G","y":0.08,"v":0.35,"h":0.8},{"k":"G","y":0.12,"v":0.22,"h":0.72},{"k":"G","y":0.2,"v":0.38,"h":0.68},{"k":"G","y":0.26,"v":0.3,"h":0.7},{"k":"G","y":0.33,"v":0.05,"h":0.45},{"k":"G","y":0.4,"v":-0.04,"h":0.15},{"k":"G","y":0.47,"v":-0.05,"h":0.03},{"k":"G","y":0.53,"v":-0.02,"h":0.01},
{"k":"b","y":-1.45,"v":0},{"k":"b","y":-0.85,"v":0},{"k":"b","y":-0.72,"v":-0.03},{"k":"b","y":-0.64,"v":0},{"k":"b","y":-0.57,"v":0.05},{"k":"b","y":-0.5,"v":0.36},{"k":"b","y":-0.45,"v":0.64},{"k":"b","y":-0.4,"v":0.76},{"k":"b","y":-0.34,"v":0.8},{"k":"b","y":-0.29,"v":0.78},{"k":"b","y":-0.24,"v":0.79},{"k":"b","y":-0.2,"v":0.81},{"k":"b","y":-0.16,"v":0.78},{"k":"b","y":-0.05,"v":0.76},{"k":"b","y":0.05,"v":0.75},{"k":"b","y":0.13,"v":0.71},{"k":"b","y":0.25,"v":0.63},{"k":"b","y":0.36,"v":0.5},{"k":"b","y":0.47,"v":0.33},{"k":"b","y":0.58,"v":0.12},{"k":"b","y":0.66,"v":0.02},{"k":"b","y":0.78,"v":0},{"k":"b","y":1.45,"v":0},
{"k":"r","y":-1.45,"v":0},{"k":"r","y":-0.85,"v":0},{"k":"r","y":-0.72,"v":-0.03},{"k":"r","y":-0.64,"v":0},{"k":"r","y":-0.57,"v":0.05},{"k":"r","y":-0.5,"v":0.36},{"k":"r","y":-0.45,"v":0.64},{"k":"r","y":-0.4,"v":0.75},{"k":"r","y":-0.34,"v":0.79},{"k":"r","y":-0.29,"v":0.76},{"k":"r","y":-0.24,"v":0.78},{"k":"r","y":-0.2,"v":0.84},{"k":"r","y":-0.16,"v":0.78},{"k":"r","y":-0.05,"v":0.76},{"k":"r","y":0.05,"v":0.75},{"k":"r","y":0.13,"v":0.71},{"k":"r","y":0.25,"v":0.63},{"k":"r","y":0.36,"v":0.5},{"k":"r","y":0.47,"v":0.33},{"k":"r","y":0.58,"v":0.12},{"k":"r","y":0.66,"v":0.02},{"k":"r","y":0.78,"v":0},{"k":"r","y":1.45,"v":0},
{"k":"o","y":-1.45,"v":0},{"k":"o","y":-0.85,"v":0},{"k":"o","y":-0.72,"v":-0.03},{"k":"o","y":-0.64,"v":0},{"k":"o","y":-0.56,"v":0.02},{"k":"o","y":-0.5,"v":0.15},{"k":"o","y":-0.43,"v":0.34},{"k":"o","y":-0.3,"v":0.45},{"k":"o","y":-0.14,"v":0.48},{"k":"o","y":0.02,"v":0.475},{"k":"o","y":0.21,"v":0.42},{"k":"o","y":0.36,"v":0.3},{"k":"o","y":0.52,"v":0.14},{"k":"o","y":0.67,"v":0.03},{"k":"o","y":0.82,"v":0},{"k":"o","y":1.45,"v":0},
{"k":"x","y":-1.375,"v":0},{"k":"x","y":-1.25,"v":0},{"k":"x","y":-1.125,"v":0},{"k":"x","y":-1,"v":0},{"k":"x","y":-0.875,"v":0},{"k":"x","y":-0.75,"v":0},{"k":"x","y":-0.625,"v":0.01},{"k":"x","y":-0.5,"v":0.35},{"k":"x","y":-0.375,"v":0.46},{"k":"x","y":-0.25,"v":0.55},{"k":"x","y":-0.125,"v":0.68},{"k":"x","y":0,"v":0.62},{"k":"x","y":0.125,"v":0.41},{"k":"x","y":0.25,"v":0.54},{"k":"x","y":0.375,"v":0.03},{"k":"x","y":0.5,"v":-0.03},{"k":"x","y":0.625,"v":0},{"k":"x","y":0.75,"v":0},{"k":"x","y":0.875,"v":0},{"k":"x","y":1,"v":0},{"k":"x","y":1.125,"v":0},{"k":"x","y":1.25,"v":0},{"k":"x","y":1.375,"v":0}
 ],
 "c2": [
{"k":"G","y":0.6,"v":-0.02,"h":0.03},{"k":"G","y":0.5,"v":-0.07,"h":0.1},{"k":"G","y":0.4,"v":-0.08,"h":0.2},{"k":"G","y":0.3,"v":0,"h":0.4},{"k":"G","y":0.2,"v":0.1,"h":0.45},{"k":"G","y":0.1,"v":0.15,"h":0.55},{"k":"G","y":0.02,"v":0.52,"h":0.7},{"k":"G","y":-0.1,"v":0.6,"h":0.74},{"k":"G","y":-0.2,"v":0.63,"h":0.76},{"k":"G","y":-0.33,"v":0.6,"h":0.78},{"k":"G","y":-0.42,"v":0.5,"h":0.68},{"k":"G","y":-0.5,"v":0.45,"h":0.6},{"k":"G","y":-0.62,"v":0.35,"h":0.52},{"k":"G","y":-0.7,"v":0.03,"h":0.15},{"k":"G","y":-0.78,"v":-0.02,"h":0.05},
{"k":"b","y":-1.45,"v":0},{"k":"b","y":-0.98,"v":0},{"k":"b","y":-0.9,"v":-0.02},{"k":"b","y":-0.78,"v":-0.06},{"k":"b","y":-0.7,"v":-0.06},{"k":"b","y":-0.6,"v":0.03},{"k":"b","y":-0.53,"v":0.31},{"k":"b","y":-0.46,"v":0.61},{"k":"b","y":-0.36,"v":0.66},{"k":"b","y":-0.26,"v":0.66},{"k":"b","y":-0.12,"v":0.64},{"k":"b","y":0.06,"v":0.58},{"k":"b","y":0.23,"v":0.48},{"k":"b","y":0.4,"v":0.31},{"k":"b","y":0.54,"v":0.15},{"k":"b","y":0.64,"v":0.02},{"k":"b","y":0.71,"v":0},{"k":"b","y":1.45,"v":0},
{"k":"r","y":-1.45,"v":0},{"k":"r","y":-0.98,"v":0},{"k":"r","y":-0.9,"v":-0.015},{"k":"r","y":-0.81,"v":-0.04},{"k":"r","y":-0.67,"v":-0.03},{"k":"r","y":-0.6,"v":0.05},{"k":"r","y":-0.53,"v":0.31},{"k":"r","y":-0.46,"v":0.61},{"k":"r","y":-0.36,"v":0.66},{"k":"r","y":-0.26,"v":0.66},{"k":"r","y":-0.12,"v":0.64},{"k":"r","y":0.06,"v":0.58},{"k":"r","y":0.23,"v":0.48},{"k":"r","y":0.4,"v":0.31},{"k":"r","y":0.54,"v":0.15},{"k":"r","y":0.64,"v":0.02},{"k":"r","y":0.71,"v":0},{"k":"r","y":1.45,"v":0},
{"k":"o","y":-1.45,"v":0},{"k":"o","y":-0.85,"v":0},{"k":"o","y":-0.77,"v":0},{"k":"o","y":-0.67,"v":0.05},{"k":"o","y":-0.57,"v":0.22},{"k":"o","y":-0.46,"v":0.38},{"k":"o","y":-0.36,"v":0.45},{"k":"o","y":-0.26,"v":0.45},{"k":"o","y":-0.08,"v":0.38},{"k":"o","y":0.12,"v":0.28},{"k":"o","y":0.33,"v":0.15},{"k":"o","y":0.5,"v":0.05},{"k":"o","y":0.68,"v":0},{"k":"o","y":1.45,"v":0},
{"k":"x","y":-1.375,"v":0},{"k":"x","y":-1.25,"v":0},{"k":"x","y":-1.125,"v":0},{"k":"x","y":-1,"v":0},{"k":"x","y":-0.875,"v":0},{"k":"x","y":-0.75,"v":0.07},{"k":"x","y":-0.625,"v":0.45},{"k":"x","y":-0.5,"v":0.54},{"k":"x","y":-0.375,"v":0.69},{"k":"x","y":-0.25,"v":0.71},{"k":"x","y":-0.125,"v":0.71},{"k":"x","y":0,"v":0.6},{"k":"x","y":0.125,"v":0.2},{"k":"x","y":0.25,"v":0.16},{"k":"x","y":0.375,"v":0.03},{"k":"x","y":0.5,"v":0},{"k":"x","y":0.625,"v":0},{"k":"x","y":0.75,"v":0},{"k":"x","y":0.875,"v":0},{"k":"x","y":1,"v":0},{"k":"x","y":1.125,"v":0},{"k":"x","y":1.25,"v":0},{"k":"x","y":1.375,"v":0}
 ],
 "c3": [
{"k":"G","y":0.45,"v":-0.02,"h":0.02},{"k":"G","y":0.4,"v":-0.04,"h":0.05},{"k":"G","y":0.3,"v":-0.03,"h":0.15},{"k":"G","y":0.2,"v":0.05,"h":0.3},{"k":"G","y":0.1,"v":0.1,"h":0.45},{"k":"G","y":0,"v":0.33,"h":0.62},{"k":"G","y":-0.1,"v":0.48,"h":0.72},{"k":"G","y":-0.2,"v":0.6,"h":0.75},{"k":"G","y":-0.3,"v":0.65,"h":0.79},{"k":"G","y":-0.4,"v":0.62,"h":0.78},{"k":"G","y":-0.5,"v":0.55,"h":0.68},{"k":"G","y":-0.6,"v":0.47,"h":0.56},{"k":"G","y":-0.75,"v":0.45,"h":0.48},{"k":"G","y":-0.86,"v":0.01,"h":0.03},
{"k":"b","y":-1.45,"v":0},{"k":"b","y":-1.01,"v":0},{"k":"b","y":-0.94,"v":-0.03},{"k":"b","y":-0.84,"v":-0.07},{"k":"b","y":-0.67,"v":-0.09},{"k":"b","y":-0.6,"v":0},{"k":"b","y":-0.52,"v":0.35},{"k":"b","y":-0.43,"v":0.56},{"k":"b","y":-0.3,"v":0.52},{"k":"b","y":-0.12,"v":0.49},{"k":"b","y":0.06,"v":0.48},{"k":"b","y":0.23,"v":0.41},{"k":"b","y":0.4,"v":0.3},{"k":"b","y":0.54,"v":0.16},{"k":"b","y":0.64,"v":0.03},{"k":"b","y":0.71,"v":0},{"k":"b","y":1.45,"v":0},
{"k":"r","y":-1.45,"v":0},{"k":"r","y":-1.01,"v":0},{"k":"r","y":-0.94,"v":-0.03},{"k":"r","y":-0.84,"v":-0.08},{"k":"r","y":-0.74,"v":-0.07},{"k":"r","y":-0.63,"v":0.03},{"k":"r","y":-0.57,"v":0.23},{"k":"r","y":-0.48,"v":0.49},{"k":"r","y":-0.39,"v":0.54},{"k":"r","y":-0.26,"v":0.51},{"k":"r","y":-0.12,"v":0.49},{"k":"r","y":0.06,"v":0.48},{"k":"r","y":0.23,"v":0.41},{"k":"r","y":0.4,"v":0.3},{"k":"r","y":0.54,"v":0.16},{"k":"r","y":0.64,"v":0.03},{"k":"r","y":0.71,"v":0},{"k":"r","y":1.45,"v":0},
{"k":"o","y":-1.45,"v":0},{"k":"o","y":-0.85,"v":0},{"k":"o","y":-0.81,"v":0},{"k":"o","y":-0.7,"v":0.02},{"k":"o","y":-0.6,"v":0.11},{"k":"o","y":-0.5,"v":0.28},{"k":"o","y":-0.39,"v":0.38},{"k":"o","y":-0.29,"v":0.39},{"k":"o","y":-0.08,"v":0.36},{"k":"o","y":0.12,"v":0.28},{"k":"o","y":0.33,"v":0.16},{"k":"o","y":0.5,"v":0.05},{"k":"o","y":0.68,"v":0},{"k":"o","y":1.45,"v":0},
{"k":"x","y":-1.375,"v":0},{"k":"x","y":-1.25,"v":0},{"k":"x","y":-1.125,"v":0},{"k":"x","y":-1,"v":0},{"k":"x","y":-0.875,"v":0.02},{"k":"x","y":-0.75,"v":0.47},{"k":"x","y":-0.625,"v":0.52},{"k":"x","y":-0.5,"v":0.63},{"k":"x","y":-0.375,"v":0.72},{"k":"x","y":-0.25,"v":0.68},{"k":"x","y":-0.125,"v":0.51},{"k":"x","y":0,"v":0.45},{"k":"x","y":0.125,"v":0.13},{"k":"x","y":0.25,"v":0.09},{"k":"x","y":0.375,"v":0},{"k":"x","y":0.5,"v":0},{"k":"x","y":0.625,"v":0},{"k":"x","y":0.75,"v":0},{"k":"x","y":0.875,"v":0},{"k":"x","y":1,"v":0},{"k":"x","y":1.125,"v":0},{"k":"x","y":1.25,"v":0},{"k":"x","y":1.375,"v":0}
 ],
 "c5": [
{"k":"G","y":0.55,"v":-0.01,"h":0.02},{"k":"G","y":0.45,"v":-0.02,"h":0.05},{"k":"G","y":0.35,"v":0,"h":0.15},{"k":"G","y":0.25,"v":0.04,"h":0.25},{"k":"G","y":0.1,"v":0.08,"h":0.35},{"k":"G","y":0,"v":0.2,"h":0.45},{"k":"G","y":-0.1,"v":0.33,"h":0.53},{"k":"G","y":-0.25,"v":0.4,"h":0.6},{"k":"G","y":-0.4,"v":0.43,"h":0.58},{"k":"G","y":-0.5,"v":0.45,"h":0.58},{"k":"G","y":-0.6,"v":0.45,"h":0.55},{"k":"G","y":-0.75,"v":0.45,"h":0.49},{"k":"G","y":-0.86,"v":0.02,"h":0.04},
{"k":"b","y":-1.45,"v":0},{"k":"b","y":-1.05,"v":0},{"k":"b","y":-0.9,"v":-0.06},{"k":"b","y":-0.83,"v":-0.1},{"k":"b","y":-0.72,"v":-0.07},{"k":"b","y":-0.64,"v":0.03},{"k":"b","y":-0.57,"v":0.18},{"k":"b","y":-0.48,"v":0.38},{"k":"b","y":-0.39,"v":0.38},{"k":"b","y":-0.22,"v":0.33},{"k":"b","y":-0.05,"v":0.3},{"k":"b","y":0.12,"v":0.28},{"k":"b","y":0.33,"v":0.23},{"k":"b","y":0.47,"v":0.13},{"k":"b","y":0.61,"v":0.02},{"k":"b","y":0.68,"v":0},{"k":"b","y":1.45,"v":0},
{"k":"r","y":-1.45,"v":0},{"k":"r","y":-1.05,"v":0},{"k":"r","y":-0.9,"v":-0.05},{"k":"r","y":-0.83,"v":-0.08},{"k":"r","y":-0.77,"v":-0.06},{"k":"r","y":-0.67,"v":-0.02},{"k":"r","y":-0.57,"v":0.16},{"k":"r","y":-0.48,"v":0.32},{"k":"r","y":-0.39,"v":0.35},{"k":"r","y":-0.22,"v":0.32},{"k":"r","y":-0.05,"v":0.3},{"k":"r","y":0.12,"v":0.29},{"k":"r","y":0.33,"v":0.24},{"k":"r","y":0.47,"v":0.13},{"k":"r","y":0.61,"v":0.02},{"k":"r","y":0.68,"v":0},{"k":"r","y":1.45,"v":0},
{"k":"o","y":-1.45,"v":0},{"k":"o","y":-0.98,"v":0},{"k":"o","y":-0.88,"v":0.01},{"k":"o","y":-0.77,"v":0.05},{"k":"o","y":-0.63,"v":0.13},{"k":"o","y":-0.5,"v":0.24},{"k":"o","y":-0.36,"v":0.27},{"k":"o","y":-0.15,"v":0.26},{"k":"o","y":0.06,"v":0.22},{"k":"o","y":0.26,"v":0.16},{"k":"o","y":0.43,"v":0.06},{"k":"o","y":0.57,"v":0.01},{"k":"o","y":0.65,"v":0},{"k":"o","y":1.45,"v":0},
{"k":"x","y":-1.375,"v":0},{"k":"x","y":-1.25,"v":0},{"k":"x","y":-1.125,"v":0},{"k":"x","y":-1,"v":0},{"k":"x","y":-0.875,"v":0.02},{"k":"x","y":-0.75,"v":0.47},{"k":"x","y":-0.625,"v":0.51},{"k":"x","y":-0.5,"v":0.53},{"k":"x","y":-0.375,"v":0.48},{"k":"x","y":-0.25,"v":0.46},{"k":"x","y":-0.125,"v":0.38},{"k":"x","y":0,"v":0.25},{"k":"x","y":0.125,"v":0.09},{"k":"x","y":0.25,"v":0.06},{"k":"x","y":0.375,"v":0.01},{"k":"x","y":0.5,"v":-0.01},{"k":"x","y":0.625,"v":0},{"k":"x","y":0.75,"v":0},{"k":"x","y":0.875,"v":0},{"k":"x","y":1,"v":0},{"k":"x","y":1.125,"v":0},{"k":"x","y":1.25,"v":0},{"k":"x","y":1.375,"v":0}
 ]
},
"concat": [
 {"width": 611, "height": 142,
  "title": {"text": "(a) ψ = −30°", "orient": "bottom", "anchor": "middle", "fontSize": 20, "offset": 22, "dx": -21},
  "layer": [
   {"data": {"name": "lab"}, "mark": {"type": "rule", "strokeDash": [1, 1.5], "color": "#222222", "strokeWidth": 0.6}, "encoding": {"x": {"field": "d", "type": "quantitative", "scale": {"domain": [0, 6]}, "axis": {"orient": "bottom", "values": [0,0.5,1,1.5,2,2.5,3,3.5,4,4.5,5,5.5,6], "labelExpr": "datum.value<0.9||(datum.value>4.2&&datum.value<4.8)?'':(abs(datum.value-4)<0.01||abs(datum.value-6)<0.01?'1.0':(abs(datum.value-round(datum.value))<0.01?'0':'0.5'))", "grid": true, "gridColor": "#cfcfcf", "gridWidth": 0.8, "domain": false, "ticks": false, "labelOverlap": false, "labelFlush": false, "title": "(U∞−Uw)/U∞  [-]", "labelPadding": 6, "titlePadding": 5}}}},
   {"data": {"name": "lab"}, "mark": {"type": "text", "font": "DejaVu Serif", "fontWeight": "bold", "fontSize": 12, "align": "right", "baseline": "middle", "dx": -1}, "encoding": {"x": {"field": "d", "type": "quantitative", "scale": {"domain": [0, 6]}, "axis": {"orient": "top", "values": [0,0.1,0.2,0.3,0.4,0.5,0.6,0.7,0.8,0.9,1,1.1,1.2,1.3,1.4,1.5,1.6,1.7,1.8,1.9,2,2.1,2.2,2.3,2.4,2.5,2.6,2.7,2.8,2.9,3,3.1,3.2,3.3,3.4,3.5,3.6,3.7,3.8,3.9,4,4.1,4.2,4.3,4.4,4.5,4.6,4.7,4.8,4.9,5,5.1,5.2,5.3,5.4,5.5,5.6,5.7,5.8,5.9,6], "labels": false, "ticks": false, "domain": false, "grid": true, "gridDash": [1, 2], "gridColor": "#c4c4c4", "title": null}}, "y": {"datum": 1.15, "type": "quantitative", "scale": {"domain": [-1.45, 1.45]}, "axis": null}, "text": {"field": "t"}}},
   {"data": {"name": "a1"}, "transform": [{"filter": "datum.k=='G'"}], "mark": {"type": "area", "orient": "horizontal", "color": "#8a8a8a", "opacity": 0.95}, "encoding": {"x": {"field": "v", "type": "quantitative", "scale": {"domain": [-1, 5]}, "axis": null}, "x2": {"field": "h"}, "y": {"field": "y", "type": "quantitative", "scale": {"domain": [-1.45, 1.45]}, "axis": {"orient": "left", "values": [-1,-0.5,0,0.5,1], "labelExpr": "''+datum.value", "grid": true, "gridColor": "#cfcfcf", "gridWidth": 0.8, "domain": false, "ticks": false, "title": "y/D [-]", "titleFontSize": 14, "labelPadding": 8, "titlePadding": 6}}}},
   {"data": {"name": "a1"}, "transform": [{"filter": "datum.k=='b'||datum.k=='r'||datum.k=='o'||datum.k=='c'"}], "mark": {"type": "line", "strokeWidth": 1.5}, "encoding": {"x": {"field": "v", "type": "quantitative", "scale": {"domain": [-1, 5]}, "axis": null}, "y": {"field": "y", "type": "quantitative", "scale": {"domain": [-1.45, 1.45]}, "axis": {"orient": "right", "values": [-1.4,-1.3,-1.2,-1.1,-1,-0.9,-0.8,-0.7,-0.6,-0.5,-0.4,-0.3,-0.2,-0.1,0,0.1,0.2,0.3,0.4,0.5,0.6,0.7,0.8,0.9,1,1.1,1.2,1.3,1.4], "labels": false, "ticks": false, "domain": false, "grid": true, "gridDash": [1, 2], "gridColor": "#c4c4c4", "title": null}}, "color": {"field": "k", "type": "nominal", "scale": {"domain": ["b","r","o","c"], "range": ["#0000ff","#ff0000","#ff8000","#2a7a1a"]}, "legend": null}, "order": {"field": "y", "type": "quantitative"}}},
   {"data": {"name": "a1"}, "transform": [{"filter": "datum.k=='x'"}], "mark": {"type": "point", "shape": "M-1,-1L1,1M-1,1L1,-1", "filled": false, "color": "#000000", "strokeWidth": 1.5, "size": 13, "opacity": 1}, "encoding": {"x": {"field": "v", "type": "quantitative", "scale": {"domain": [-1, 5]}, "axis": null}, "y": {"field": "y", "type": "quantitative", "scale": {"domain": [-1.45, 1.45]}, "axis": null}}},
   {"data": {"name": "a2"}, "transform": [{"filter": "datum.k=='G'"}], "mark": {"type": "area", "orient": "horizontal", "color": "#8a8a8a", "opacity": 0.95}, "encoding": {"x": {"field": "v", "type": "quantitative", "scale": {"domain": [-2, 4]}, "axis": null}, "x2": {"field": "h"}, "y": {"field": "y", "type": "quantitative", "scale": {"domain": [-1.45, 1.45]}, "axis": null}}},
   {"data": {"name": "a2"}, "transform": [{"filter": "datum.k=='b'||datum.k=='r'||datum.k=='o'||datum.k=='c'"}], "mark": {"type": "line", "strokeWidth": 1.5}, "encoding": {"x": {"field": "v", "type": "quantitative", "scale": {"domain": [-2, 4]}, "axis": null}, "y": {"field": "y", "type": "quantitative", "scale": {"domain": [-1.45, 1.45]}, "axis": null}, "color": {"field": "k", "type": "nominal", "scale": {"domain": ["b","r","o","c"], "range": ["#0000ff","#ff0000","#ff8000","#2a7a1a"]}, "legend": null}, "order": {"field": "y", "type": "quantitative"}}},
   {"data": {"name": "a2"}, "transform": [{"filter": "datum.k=='x'"}], "mark": {"type": "point", "shape": "M-1,-1L1,1M-1,1L1,-1", "filled": false, "color": "#000000", "strokeWidth": 1.5, "size": 13, "opacity": 1}, "encoding": {"x": {"field": "v", "type": "quantitative", "scale": {"domain": [-2, 4]}, "axis": null}, "y": {"field": "y", "type": "quantitative", "scale": {"domain": [-1.45, 1.45]}, "axis": null}}},
   {"data": {"name": "a3"}, "transform": [{"filter": "datum.k=='G'"}], "mark": {"type": "area", "orient": "horizontal", "color": "#8a8a8a", "opacity": 0.95}, "encoding": {"x": {"field": "v", "type": "quantitative", "scale": {"domain": [-3, 3]}, "axis": null}, "x2": {"field": "h"}, "y": {"field": "y", "type": "quantitative", "scale": {"domain": [-1.45, 1.45]}, "axis": null}}},
   {"data": {"name": "a3"}, "transform": [{"filter": "datum.k=='b'||datum.k=='r'||datum.k=='o'||datum.k=='c'"}], "mark": {"type": "line", "strokeWidth": 1.5}, "encoding": {"x": {"field": "v", "type": "quantitative", "scale": {"domain": [-3, 3]}, "axis": null}, "y": {"field": "y", "type": "quantitative", "scale": {"domain": [-1.45, 1.45]}, "axis": null}, "color": {"field": "k", "type": "nominal", "scale": {"domain": ["b","r","o","c"], "range": ["#0000ff","#ff0000","#ff8000","#2a7a1a"]}, "legend": null}, "order": {"field": "y", "type": "quantitative"}}},
   {"data": {"name": "a3"}, "transform": [{"filter": "datum.k=='x'"}], "mark": {"type": "point", "shape": "M-1,-1L1,1M-1,1L1,-1", "filled": false, "color": "#000000", "strokeWidth": 1.5, "size": 13, "opacity": 1}, "encoding": {"x": {"field": "v", "type": "quantitative", "scale": {"domain": [-3, 3]}, "axis": null}, "y": {"field": "y", "type": "quantitative", "scale": {"domain": [-1.45, 1.45]}, "axis": null}}},
   {"data": {"name": "a5"}, "transform": [{"filter": "datum.k=='G'"}], "mark": {"type": "area", "orient": "horizontal", "color": "#8a8a8a", "opacity": 0.95}, "encoding": {"x": {"field": "v", "type": "quantitative", "scale": {"domain": [-5, 1]}, "axis": null}, "x2": {"field": "h"}, "y": {"field": "y", "type": "quantitative", "scale": {"domain": [-1.45, 1.45]}, "axis": null}}},
   {"data": {"name": "a5"}, "transform": [{"filter": "datum.k=='b'||datum.k=='r'||datum.k=='o'||datum.k=='c'"}], "mark": {"type": "line", "strokeWidth": 1.5}, "encoding": {"x": {"field": "v", "type": "quantitative", "scale": {"domain": [-5, 1]}, "axis": null}, "y": {"field": "y", "type": "quantitative", "scale": {"domain": [-1.45, 1.45]}, "axis": null}, "color": {"field": "k", "type": "nominal", "scale": {"domain": ["b","r","o","c"], "range": ["#0000ff","#ff0000","#ff8000","#2a7a1a"]}, "legend": null}, "order": {"field": "y", "type": "quantitative"}}},
   {"data": {"name": "a5"}, "transform": [{"filter": "datum.k=='x'"}], "mark": {"type": "point", "shape": "M-1,-1L1,1M-1,1L1,-1", "filled": false, "color": "#000000", "strokeWidth": 1.5, "size": 13, "opacity": 1}, "encoding": {"x": {"field": "v", "type": "quantitative", "scale": {"domain": [-5, 1]}, "axis": null}, "y": {"field": "y", "type": "quantitative", "scale": {"domain": [-1.45, 1.45]}, "axis": null}}}
  ],
  "resolve": {"scale": {"x": "independent"}, "axis": {"y": "independent"}}
 },
 {"width": 124, "height": 145, "data": {"name": "a1"},
  "layer": [
   {"transform": [{"filter": "datum.k=='G'"}], "mark": {"type": "area", "color": "#8a8a8a", "opacity": 0.95}, "encoding": {"x": {"field": "y", "type": "quantitative", "scale": {"domain": [-1.5, 1.4]}, "axis": {"orient": "bottom", "values": [-1,-0.5,0,0.5,1], "labelExpr": "''+datum.value", "grid": true, "gridColor": "#cfcfcf", "gridWidth": 0.8, "domain": false, "ticks": false, "labelOverlap": false, "title": "y/D [-]", "titleFontSize": 14, "labelPadding": 6, "titlePadding": 3}}, "y": {"field": "v", "type": "quantitative", "scale": {"domain": [-0.2, 1], "reverse": true}, "axis": {"orient": "left", "values": [0, 0.5, 1], "labelExpr": "''+datum.value", "grid": true, "gridColor": "#cfcfcf", "gridWidth": 0.8, "domain": false, "ticks": false, "title": "(U∞−Uw)/U∞  [-]", "titleFontSize": 12, "labelPadding": 4, "titlePadding": 4}}, "y2": {"field": "h"}}},
   {"transform": [{"filter": "datum.k=='b'||datum.k=='r'||datum.k=='o'||datum.k=='c'"}], "mark": {"type": "line", "strokeWidth": 1.5, "clip": true}, "encoding": {"x": {"field": "y", "type": "quantitative", "scale": {"domain": [-1.5, 1.4]}, "axis": {"orient": "top", "values": [-1.5,-1.4,-1.3,-1.2,-1.1,-1,-0.9,-0.8,-0.7,-0.6,-0.5,-0.4,-0.3,-0.2,-0.1,0,0.1,0.2,0.3,0.4,0.5,0.6,0.7,0.8,0.9,1,1.1,1.2,1.3,1.4], "labels": false, "ticks": false, "domain": false, "grid": true, "gridDash": [1, 2], "gridColor": "#c4c4c4", "title": null}}, "y": {"field": "v", "type": "quantitative", "scale": {"domain": [-0.2, 1], "reverse": true}, "axis": {"orient": "right", "values": [-0.2,-0.1,0,0.1,0.2,0.3,0.4,0.5,0.6,0.7,0.8,0.9,1], "labels": false, "ticks": false, "domain": false, "grid": true, "gridDash": [1, 2], "gridColor": "#c4c4c4", "title": null}}, "color": {"field": "k", "type": "nominal", "scale": {"domain": ["b","r","o","c"], "range": ["#0000ff","#ff0000","#ff8000","#2a7a1a"]}, "legend": null}, "order": {"field": "y", "type": "quantitative"}}},
   {"transform": [{"filter": "datum.k=='x'"}], "mark": {"type": "point", "shape": "M-1,-1L1,1M-1,1L1,-1", "filled": false, "color": "#000000", "strokeWidth": 1.5, "size": 13, "opacity": 1, "clip": true}, "encoding": {"x": {"field": "y", "type": "quantitative", "scale": {"domain": [-1.5, 1.4]}, "axis": null}, "y": {"field": "v", "type": "quantitative", "scale": {"domain": [-0.2, 1], "reverse": true}, "axis": null}}},
   {"data": {"values": [{}]}, "mark": {"type": "text", "text": "1 D", "font": "DejaVu Serif", "fontWeight": "bold", "fontSize": 13, "baseline": "middle"}, "encoding": {"x": {"datum": 0, "type": "quantitative", "scale": {"domain": [-1.5, 1.4]}, "axis": null}, "y": {"datum": -0.1, "type": "quantitative", "scale": {"domain": [-0.2, 1], "reverse": true}, "axis": null}}}
  ],
  "resolve": {"axis": {"x": "independent", "y": "independent"}}
 },
 {"width": 611, "height": 142,
  "title": {"text": "(b) ψ = 0°", "orient": "bottom", "anchor": "middle", "fontSize": 20, "offset": 22, "dx": -21},
  "layer": [
   {"data": {"name": "lab"}, "mark": {"type": "rule", "strokeDash": [1, 1.5], "color": "#222222", "strokeWidth": 0.6}, "encoding": {"x": {"field": "d", "type": "quantitative", "scale": {"domain": [0, 6]}, "axis": {"orient": "bottom", "values": [0,0.5,1,1.5,2,2.5,3,3.5,4,4.5,5,5.5,6], "labelExpr": "datum.value<0.9||(datum.value>4.2&&datum.value<4.8)?'':(abs(datum.value-4)<0.01||abs(datum.value-6)<0.01?'1.0':(abs(datum.value-round(datum.value))<0.01?'0':'0.5'))", "grid": true, "gridColor": "#cfcfcf", "gridWidth": 0.8, "domain": false, "ticks": false, "labelOverlap": false, "labelFlush": false, "title": "(U∞−Uw)/U∞  [-]", "labelPadding": 6, "titlePadding": 5}}}},
   {"data": {"name": "lab"}, "mark": {"type": "text", "font": "DejaVu Serif", "fontWeight": "bold", "fontSize": 12, "align": "right", "baseline": "middle", "dx": -1}, "encoding": {"x": {"field": "d", "type": "quantitative", "scale": {"domain": [0, 6]}, "axis": {"orient": "top", "values": [0,0.1,0.2,0.3,0.4,0.5,0.6,0.7,0.8,0.9,1,1.1,1.2,1.3,1.4,1.5,1.6,1.7,1.8,1.9,2,2.1,2.2,2.3,2.4,2.5,2.6,2.7,2.8,2.9,3,3.1,3.2,3.3,3.4,3.5,3.6,3.7,3.8,3.9,4,4.1,4.2,4.3,4.4,4.5,4.6,4.7,4.8,4.9,5,5.1,5.2,5.3,5.4,5.5,5.6,5.7,5.8,5.9,6], "labels": false, "ticks": false, "domain": false, "grid": true, "gridDash": [1, 2], "gridColor": "#c4c4c4", "title": null}}, "y": {"datum": 1.15, "type": "quantitative", "scale": {"domain": [-1.45, 1.45]}, "axis": null}, "text": {"field": "t"}}},
   {"data": {"name": "b1"}, "transform": [{"filter": "datum.k=='G'"}], "mark": {"type": "area", "orient": "horizontal", "color": "#8a8a8a", "opacity": 0.95}, "encoding": {"x": {"field": "v", "type": "quantitative", "scale": {"domain": [-1, 5]}, "axis": null}, "x2": {"field": "h"}, "y": {"field": "y", "type": "quantitative", "scale": {"domain": [-1.45, 1.45]}, "axis": {"orient": "left", "values": [-1,-0.5,0,0.5,1], "labelExpr": "''+datum.value", "grid": true, "gridColor": "#cfcfcf", "gridWidth": 0.8, "domain": false, "ticks": false, "title": "y/D [-]", "titleFontSize": 14, "labelPadding": 8, "titlePadding": 6}}}},
   {"data": {"name": "b1"}, "transform": [{"filter": "datum.k=='E'"}], "mark": {"type": "area", "orient": "horizontal", "color": "#3ee63e", "opacity": 0.55}, "encoding": {"x": {"field": "v", "type": "quantitative", "scale": {"domain": [-1, 5]}, "axis": null}, "x2": {"field": "h"}, "y": {"field": "y", "type": "quantitative", "scale": {"domain": [-1.45, 1.45]}, "axis": null}}},
   {"data": {"name": "b1"}, "transform": [{"filter": "datum.k=='b'||datum.k=='r'||datum.k=='o'||datum.k=='c'"}], "mark": {"type": "line", "strokeWidth": 1.5}, "encoding": {"x": {"field": "v", "type": "quantitative", "scale": {"domain": [-1, 5]}, "axis": null}, "y": {"field": "y", "type": "quantitative", "scale": {"domain": [-1.45, 1.45]}, "axis": {"orient": "right", "values": [-1.4,-1.3,-1.2,-1.1,-1,-0.9,-0.8,-0.7,-0.6,-0.5,-0.4,-0.3,-0.2,-0.1,0,0.1,0.2,0.3,0.4,0.5,0.6,0.7,0.8,0.9,1,1.1,1.2,1.3,1.4], "labels": false, "ticks": false, "domain": false, "grid": true, "gridDash": [1, 2], "gridColor": "#c4c4c4", "title": null}}, "color": {"field": "k", "type": "nominal", "scale": {"domain": ["b","r","o","c"], "range": ["#0000ff","#ff0000","#ff8000","#2a7a1a"]}, "legend": null}, "order": {"field": "y", "type": "quantitative"}}},
   {"data": {"name": "b1"}, "transform": [{"filter": "datum.k=='x'"}], "mark": {"type": "point", "shape": "M-1,-1L1,1M-1,1L1,-1", "filled": false, "color": "#000000", "strokeWidth": 1.5, "size": 13, "opacity": 1}, "encoding": {"x": {"field": "v", "type": "quantitative", "scale": {"domain": [-1, 5]}, "axis": null}, "y": {"field": "y", "type": "quantitative", "scale": {"domain": [-1.45, 1.45]}, "axis": null}}},
   {"data": {"name": "b1"}, "transform": [{"filter": "datum.k=='c'"}], "mark": {"type": "point", "shape": "circle", "filled": false, "color": "#1d6b14", "size": 24, "strokeWidth": 1, "opacity": 1}, "encoding": {"x": {"field": "v", "type": "quantitative", "scale": {"domain": [-1, 5]}, "axis": null}, "y": {"field": "y", "type": "quantitative", "scale": {"domain": [-1.45, 1.45]}, "axis": null}}},
   {"data": {"name": "b2"}, "transform": [{"filter": "datum.k=='G'"}], "mark": {"type": "area", "orient": "horizontal", "color": "#8a8a8a", "opacity": 0.95}, "encoding": {"x": {"field": "v", "type": "quantitative", "scale": {"domain": [-2, 4]}, "axis": null}, "x2": {"field": "h"}, "y": {"field": "y", "type": "quantitative", "scale": {"domain": [-1.45, 1.45]}, "axis": null}}},
   {"data": {"name": "b2"}, "transform": [{"filter": "datum.k=='E'"}], "mark": {"type": "area", "orient": "horizontal", "color": "#3ee63e", "opacity": 0.55}, "encoding": {"x": {"field": "v", "type": "quantitative", "scale": {"domain": [-2, 4]}, "axis": null}, "x2": {"field": "h"}, "y": {"field": "y", "type": "quantitative", "scale": {"domain": [-1.45, 1.45]}, "axis": null}}},
   {"data": {"name": "b2"}, "transform": [{"filter": "datum.k=='b'||datum.k=='r'||datum.k=='o'||datum.k=='c'"}], "mark": {"type": "line", "strokeWidth": 1.5}, "encoding": {"x": {"field": "v", "type": "quantitative", "scale": {"domain": [-2, 4]}, "axis": null}, "y": {"field": "y", "type": "quantitative", "scale": {"domain": [-1.45, 1.45]}, "axis": null}, "color": {"field": "k", "type": "nominal", "scale": {"domain": ["b","r","o","c"], "range": ["#0000ff","#ff0000","#ff8000","#2a7a1a"]}, "legend": null}, "order": {"field": "y", "type": "quantitative"}}},
   {"data": {"name": "b2"}, "transform": [{"filter": "datum.k=='x'"}], "mark": {"type": "point", "shape": "M-1,-1L1,1M-1,1L1,-1", "filled": false, "color": "#000000", "strokeWidth": 1.5, "size": 13, "opacity": 1}, "encoding": {"x": {"field": "v", "type": "quantitative", "scale": {"domain": [-2, 4]}, "axis": null}, "y": {"field": "y", "type": "quantitative", "scale": {"domain": [-1.45, 1.45]}, "axis": null}}},
   {"data": {"name": "b2"}, "transform": [{"filter": "datum.k=='c'"}], "mark": {"type": "point", "shape": "circle", "filled": false, "color": "#1d6b14", "size": 24, "strokeWidth": 1, "opacity": 1}, "encoding": {"x": {"field": "v", "type": "quantitative", "scale": {"domain": [-2, 4]}, "axis": null}, "y": {"field": "y", "type": "quantitative", "scale": {"domain": [-1.45, 1.45]}, "axis": null}}},
   {"data": {"name": "b3"}, "transform": [{"filter": "datum.k=='G'"}], "mark": {"type": "area", "orient": "horizontal", "color": "#8a8a8a", "opacity": 0.95}, "encoding": {"x": {"field": "v", "type": "quantitative", "scale": {"domain": [-3, 3]}, "axis": null}, "x2": {"field": "h"}, "y": {"field": "y", "type": "quantitative", "scale": {"domain": [-1.45, 1.45]}, "axis": null}}},
   {"data": {"name": "b3"}, "transform": [{"filter": "datum.k=='E'"}], "mark": {"type": "area", "orient": "horizontal", "color": "#3ee63e", "opacity": 0.55}, "encoding": {"x": {"field": "v", "type": "quantitative", "scale": {"domain": [-3, 3]}, "axis": null}, "x2": {"field": "h"}, "y": {"field": "y", "type": "quantitative", "scale": {"domain": [-1.45, 1.45]}, "axis": null}}},
   {"data": {"name": "b3"}, "transform": [{"filter": "datum.k=='b'||datum.k=='r'||datum.k=='o'||datum.k=='c'"}], "mark": {"type": "line", "strokeWidth": 1.5}, "encoding": {"x": {"field": "v", "type": "quantitative", "scale": {"domain": [-3, 3]}, "axis": null}, "y": {"field": "y", "type": "quantitative", "scale": {"domain": [-1.45, 1.45]}, "axis": null}, "color": {"field": "k", "type": "nominal", "scale": {"domain": ["b","r","o","c"], "range": ["#0000ff","#ff0000","#ff8000","#2a7a1a"]}, "legend": null}, "order": {"field": "y", "type": "quantitative"}}},
   {"data": {"name": "b3"}, "transform": [{"filter": "datum.k=='x'"}], "mark": {"type": "point", "shape": "M-1,-1L1,1M-1,1L1,-1", "filled": false, "color": "#000000", "strokeWidth": 1.5, "size": 13, "opacity": 1}, "encoding": {"x": {"field": "v", "type": "quantitative", "scale": {"domain": [-3, 3]}, "axis": null}, "y": {"field": "y", "type": "quantitative", "scale": {"domain": [-1.45, 1.45]}, "axis": null}}},
   {"data": {"name": "b3"}, "transform": [{"filter": "datum.k=='c'"}], "mark": {"type": "point", "shape": "circle", "filled": false, "color": "#1d6b14", "size": 24, "strokeWidth": 1, "opacity": 1}, "encoding": {"x": {"field": "v", "type": "quantitative", "scale": {"domain": [-3, 3]}, "axis": null}, "y": {"field": "y", "type": "quantitative", "scale": {"domain": [-1.45, 1.45]}, "axis": null}}},
   {"data": {"name": "b5"}, "transform": [{"filter": "datum.k=='G'"}], "mark": {"type": "area", "orient": "horizontal", "color": "#8a8a8a", "opacity": 0.95}, "encoding": {"x": {"field": "v", "type": "quantitative", "scale": {"domain": [-5, 1]}, "axis": null}, "x2": {"field": "h"}, "y": {"field": "y", "type": "quantitative", "scale": {"domain": [-1.45, 1.45]}, "axis": null}}},
   {"data": {"name": "b5"}, "transform": [{"filter": "datum.k=='E'"}], "mark": {"type": "area", "orient": "horizontal", "color": "#3ee63e", "opacity": 0.55}, "encoding": {"x": {"field": "v", "type": "quantitative", "scale": {"domain": [-5, 1]}, "axis": null}, "x2": {"field": "h"}, "y": {"field": "y", "type": "quantitative", "scale": {"domain": [-1.45, 1.45]}, "axis": null}}},
   {"data": {"name": "b5"}, "transform": [{"filter": "datum.k=='b'||datum.k=='r'||datum.k=='o'||datum.k=='c'"}], "mark": {"type": "line", "strokeWidth": 1.5}, "encoding": {"x": {"field": "v", "type": "quantitative", "scale": {"domain": [-5, 1]}, "axis": null}, "y": {"field": "y", "type": "quantitative", "scale": {"domain": [-1.45, 1.45]}, "axis": null}, "color": {"field": "k", "type": "nominal", "scale": {"domain": ["b","r","o","c"], "range": ["#0000ff","#ff0000","#ff8000","#2a7a1a"]}, "legend": null}, "order": {"field": "y", "type": "quantitative"}}},
   {"data": {"name": "b5"}, "transform": [{"filter": "datum.k=='x'"}], "mark": {"type": "point", "shape": "M-1,-1L1,1M-1,1L1,-1", "filled": false, "color": "#000000", "strokeWidth": 1.5, "size": 13, "opacity": 1}, "encoding": {"x": {"field": "v", "type": "quantitative", "scale": {"domain": [-5, 1]}, "axis": null}, "y": {"field": "y", "type": "quantitative", "scale": {"domain": [-1.45, 1.45]}, "axis": null}}},
   {"data": {"name": "b5"}, "transform": [{"filter": "datum.k=='c'"}], "mark": {"type": "point", "shape": "circle", "filled": false, "color": "#1d6b14", "size": 24, "strokeWidth": 1, "opacity": 1}, "encoding": {"x": {"field": "v", "type": "quantitative", "scale": {"domain": [-5, 1]}, "axis": null}, "y": {"field": "y", "type": "quantitative", "scale": {"domain": [-1.45, 1.45]}, "axis": null}}}
  ],
  "resolve": {"scale": {"x": "independent"}, "axis": {"y": "independent"}}
 },
 {"width": 124, "height": 145, "data": {"name": "b1"},
  "layer": [
   {"transform": [{"filter": "datum.k=='G'"}], "mark": {"type": "area", "color": "#8a8a8a", "opacity": 0.95}, "encoding": {"x": {"field": "y", "type": "quantitative", "scale": {"domain": [-1.5, 1.4]}, "axis": {"orient": "bottom", "values": [-1,-0.5,0,0.5,1], "labelExpr": "''+datum.value", "grid": true, "gridColor": "#cfcfcf", "gridWidth": 0.8, "domain": false, "ticks": false, "labelOverlap": false, "title": "y/D [-]", "titleFontSize": 14, "labelPadding": 6, "titlePadding": 3}}, "y": {"field": "v", "type": "quantitative", "scale": {"domain": [-0.2, 1], "reverse": true}, "axis": {"orient": "left", "values": [0, 0.5, 1], "labelExpr": "''+datum.value", "grid": true, "gridColor": "#cfcfcf", "gridWidth": 0.8, "domain": false, "ticks": false, "title": "(U∞−Uw)/U∞  [-]", "titleFontSize": 12, "labelPadding": 4, "titlePadding": 4}}, "y2": {"field": "h"}}},
   {"transform": [{"filter": "datum.k=='E'"}], "mark": {"type": "area", "color": "#3ee63e", "opacity": 0.55}, "encoding": {"x": {"field": "y", "type": "quantitative", "scale": {"domain": [-1.5, 1.4]}, "axis": null}, "y": {"field": "v", "type": "quantitative", "scale": {"domain": [-0.2, 1], "reverse": true}, "axis": null}, "y2": {"field": "h"}}},
   {"transform": [{"filter": "datum.k=='b'||datum.k=='r'||datum.k=='o'||datum.k=='c'"}], "mark": {"type": "line", "strokeWidth": 1.5, "clip": true}, "encoding": {"x": {"field": "y", "type": "quantitative", "scale": {"domain": [-1.5, 1.4]}, "axis": {"orient": "top", "values": [-1.5,-1.4,-1.3,-1.2,-1.1,-1,-0.9,-0.8,-0.7,-0.6,-0.5,-0.4,-0.3,-0.2,-0.1,0,0.1,0.2,0.3,0.4,0.5,0.6,0.7,0.8,0.9,1,1.1,1.2,1.3,1.4], "labels": false, "ticks": false, "domain": false, "grid": true, "gridDash": [1, 2], "gridColor": "#c4c4c4", "title": null}}, "y": {"field": "v", "type": "quantitative", "scale": {"domain": [-0.2, 1], "reverse": true}, "axis": {"orient": "right", "values": [-0.2,-0.1,0,0.1,0.2,0.3,0.4,0.5,0.6,0.7,0.8,0.9,1], "labels": false, "ticks": false, "domain": false, "grid": true, "gridDash": [1, 2], "gridColor": "#c4c4c4", "title": null}}, "color": {"field": "k", "type": "nominal", "scale": {"domain": ["b","r","o","c"], "range": ["#0000ff","#ff0000","#ff8000","#2a7a1a"]}, "legend": null}, "order": {"field": "y", "type": "quantitative"}}},
   {"transform": [{"filter": "datum.k=='x'"}], "mark": {"type": "point", "shape": "M-1,-1L1,1M-1,1L1,-1", "filled": false, "color": "#000000", "strokeWidth": 1.5, "size": 13, "opacity": 1, "clip": true}, "encoding": {"x": {"field": "y", "type": "quantitative", "scale": {"domain": [-1.5, 1.4]}, "axis": null}, "y": {"field": "v", "type": "quantitative", "scale": {"domain": [-0.2, 1], "reverse": true}, "axis": null}}},
   {"transform": [{"filter": "datum.k=='c'"}], "mark": {"type": "point", "shape": "circle", "filled": false, "color": "#1d6b14", "size": 24, "strokeWidth": 1, "opacity": 1, "clip": true}, "encoding": {"x": {"field": "y", "type": "quantitative", "scale": {"domain": [-1.5, 1.4]}, "axis": null}, "y": {"field": "v", "type": "quantitative", "scale": {"domain": [-0.2, 1], "reverse": true}, "axis": null}}},
   {"data": {"values": [{}]}, "mark": {"type": "text", "text": "1 D", "font": "DejaVu Serif", "fontWeight": "bold", "fontSize": 13, "baseline": "middle"}, "encoding": {"x": {"datum": 0, "type": "quantitative", "scale": {"domain": [-1.5, 1.4]}, "axis": null}, "y": {"datum": -0.1, "type": "quantitative", "scale": {"domain": [-0.2, 1], "reverse": true}, "axis": null}}}
  ],
  "resolve": {"axis": {"x": "independent", "y": "independent"}}
 },
 {"width": 611, "height": 142,
  "title": {"text": "(c) ψ = 30°", "orient": "bottom", "anchor": "middle", "fontSize": 20, "offset": 22, "dx": -21},
  "layer": [
   {"data": {"name": "lab"}, "mark": {"type": "rule", "strokeDash": [1, 1.5], "color": "#222222", "strokeWidth": 0.6}, "encoding": {"x": {"field": "d", "type": "quantitative", "scale": {"domain": [0, 6]}, "axis": {"orient": "bottom", "values": [0,0.5,1,1.5,2,2.5,3,3.5,4,4.5,5,5.5,6], "labelExpr": "datum.value<0.9||(datum.value>4.2&&datum.value<4.8)?'':(abs(datum.value-4)<0.01||abs(datum.value-6)<0.01?'1.0':(abs(datum.value-round(datum.value))<0.01?'0':'0.5'))", "grid": true, "gridColor": "#cfcfcf", "gridWidth": 0.8, "domain": false, "ticks": false, "labelOverlap": false, "labelFlush": false, "title": "(U∞−Uw)/U∞  [-]", "labelPadding": 6, "titlePadding": 5}}}},
   {"data": {"name": "lab"}, "mark": {"type": "text", "font": "DejaVu Serif", "fontWeight": "bold", "fontSize": 12, "align": "right", "baseline": "middle", "dx": -1}, "encoding": {"x": {"field": "d", "type": "quantitative", "scale": {"domain": [0, 6]}, "axis": {"orient": "top", "values": [0,0.1,0.2,0.3,0.4,0.5,0.6,0.7,0.8,0.9,1,1.1,1.2,1.3,1.4,1.5,1.6,1.7,1.8,1.9,2,2.1,2.2,2.3,2.4,2.5,2.6,2.7,2.8,2.9,3,3.1,3.2,3.3,3.4,3.5,3.6,3.7,3.8,3.9,4,4.1,4.2,4.3,4.4,4.5,4.6,4.7,4.8,4.9,5,5.1,5.2,5.3,5.4,5.5,5.6,5.7,5.8,5.9,6], "labels": false, "ticks": false, "domain": false, "grid": true, "gridDash": [1, 2], "gridColor": "#c4c4c4", "title": null}}, "y": {"datum": 1.15, "type": "quantitative", "scale": {"domain": [-1.45, 1.45]}, "axis": null}, "text": {"field": "t"}}},
   {"data": {"name": "c1"}, "transform": [{"filter": "datum.k=='G'"}], "mark": {"type": "area", "orient": "horizontal", "color": "#8a8a8a", "opacity": 0.95}, "encoding": {"x": {"field": "v", "type": "quantitative", "scale": {"domain": [-1, 5]}, "axis": null}, "x2": {"field": "h"}, "y": {"field": "y", "type": "quantitative", "scale": {"domain": [-1.45, 1.45]}, "axis": {"orient": "left", "values": [-1,-0.5,0,0.5,1], "labelExpr": "''+datum.value", "grid": true, "gridColor": "#cfcfcf", "gridWidth": 0.8, "domain": false, "ticks": false, "title": "y/D [-]", "titleFontSize": 14, "labelPadding": 8, "titlePadding": 6}}}},
   {"data": {"name": "c1"}, "transform": [{"filter": "datum.k=='b'||datum.k=='r'||datum.k=='o'||datum.k=='c'"}], "mark": {"type": "line", "strokeWidth": 1.5}, "encoding": {"x": {"field": "v", "type": "quantitative", "scale": {"domain": [-1, 5]}, "axis": null}, "y": {"field": "y", "type": "quantitative", "scale": {"domain": [-1.45, 1.45]}, "axis": {"orient": "right", "values": [-1.4,-1.3,-1.2,-1.1,-1,-0.9,-0.8,-0.7,-0.6,-0.5,-0.4,-0.3,-0.2,-0.1,0,0.1,0.2,0.3,0.4,0.5,0.6,0.7,0.8,0.9,1,1.1,1.2,1.3,1.4], "labels": false, "ticks": false, "domain": false, "grid": true, "gridDash": [1, 2], "gridColor": "#c4c4c4", "title": null}}, "color": {"field": "k", "type": "nominal", "scale": {"domain": ["b","r","o","c"], "range": ["#0000ff","#ff0000","#ff8000","#2a7a1a"]}, "legend": null}, "order": {"field": "y", "type": "quantitative"}}},
   {"data": {"name": "c1"}, "transform": [{"filter": "datum.k=='x'"}], "mark": {"type": "point", "shape": "M-1,-1L1,1M-1,1L1,-1", "filled": false, "color": "#000000", "strokeWidth": 1.5, "size": 13, "opacity": 1}, "encoding": {"x": {"field": "v", "type": "quantitative", "scale": {"domain": [-1, 5]}, "axis": null}, "y": {"field": "y", "type": "quantitative", "scale": {"domain": [-1.45, 1.45]}, "axis": null}}},
   {"data": {"name": "c2"}, "transform": [{"filter": "datum.k=='G'"}], "mark": {"type": "area", "orient": "horizontal", "color": "#8a8a8a", "opacity": 0.95}, "encoding": {"x": {"field": "v", "type": "quantitative", "scale": {"domain": [-2, 4]}, "axis": null}, "x2": {"field": "h"}, "y": {"field": "y", "type": "quantitative", "scale": {"domain": [-1.45, 1.45]}, "axis": null}}},
   {"data": {"name": "c2"}, "transform": [{"filter": "datum.k=='b'||datum.k=='r'||datum.k=='o'||datum.k=='c'"}], "mark": {"type": "line", "strokeWidth": 1.5}, "encoding": {"x": {"field": "v", "type": "quantitative", "scale": {"domain": [-2, 4]}, "axis": null}, "y": {"field": "y", "type": "quantitative", "scale": {"domain": [-1.45, 1.45]}, "axis": null}, "color": {"field": "k", "type": "nominal", "scale": {"domain": ["b","r","o","c"], "range": ["#0000ff","#ff0000","#ff8000","#2a7a1a"]}, "legend": null}, "order": {"field": "y", "type": "quantitative"}}},
   {"data": {"name": "c2"}, "transform": [{"filter": "datum.k=='x'"}], "mark": {"type": "point", "shape": "M-1,-1L1,1M-1,1L1,-1", "filled": false, "color": "#000000", "strokeWidth": 1.5, "size": 13, "opacity": 1}, "encoding": {"x": {"field": "v", "type": "quantitative", "scale": {"domain": [-2, 4]}, "axis": null}, "y": {"field": "y", "type": "quantitative", "scale": {"domain": [-1.45, 1.45]}, "axis": null}}},
   {"data": {"name": "c3"}, "transform": [{"filter": "datum.k=='G'"}], "mark": {"type": "area", "orient": "horizontal", "color": "#8a8a8a", "opacity": 0.95}, "encoding": {"x": {"field": "v", "type": "quantitative", "scale": {"domain": [-3, 3]}, "axis": null}, "x2": {"field": "h"}, "y": {"field": "y", "type": "quantitative", "scale": {"domain": [-1.45, 1.45]}, "axis": null}}},
   {"data": {"name": "c3"}, "transform": [{"filter": "datum.k=='b'||datum.k=='r'||datum.k=='o'||datum.k=='c'"}], "mark": {"type": "line", "strokeWidth": 1.5}, "encoding": {"x": {"field": "v", "type": "quantitative", "scale": {"domain": [-3, 3]}, "axis": null}, "y": {"field": "y", "type": "quantitative", "scale": {"domain": [-1.45, 1.45]}, "axis": null}, "color": {"field": "k", "type": "nominal", "scale": {"domain": ["b","r","o","c"], "range": ["#0000ff","#ff0000","#ff8000","#2a7a1a"]}, "legend": null}, "order": {"field": "y", "type": "quantitative"}}},
   {"data": {"name": "c3"}, "transform": [{"filter": "datum.k=='x'"}], "mark": {"type": "point", "shape": "M-1,-1L1,1M-1,1L1,-1", "filled": false, "color": "#000000", "strokeWidth": 1.5, "size": 13, "opacity": 1}, "encoding": {"x": {"field": "v", "type": "quantitative", "scale": {"domain": [-3, 3]}, "axis": null}, "y": {"field": "y", "type": "quantitative", "scale": {"domain": [-1.45, 1.45]}, "axis": null}}},
   {"data": {"name": "c5"}, "transform": [{"filter": "datum.k=='G'"}], "mark": {"type": "area", "orient": "horizontal", "color": "#8a8a8a", "opacity": 0.95}, "encoding": {"x": {"field": "v", "type": "quantitative", "scale": {"domain": [-5, 1]}, "axis": null}, "x2": {"field": "h"}, "y": {"field": "y", "type": "quantitative", "scale": {"domain": [-1.45, 1.45]}, "axis": null}}},
   {"data": {"name": "c5"}, "transform": [{"filter": "datum.k=='b'||datum.k=='r'||datum.k=='o'||datum.k=='c'"}], "mark": {"type": "line", "strokeWidth": 1.5}, "encoding": {"x": {"field": "v", "type": "quantitative", "scale": {"domain": [-5, 1]}, "axis": null}, "y": {"field": "y", "type": "quantitative", "scale": {"domain": [-1.45, 1.45]}, "axis": null}, "color": {"field": "k", "type": "nominal", "scale": {"domain": ["b","r","o","c"], "range": ["#0000ff","#ff0000","#ff8000","#2a7a1a"]}, "legend": null}, "order": {"field": "y", "type": "quantitative"}}},
   {"data": {"name": "c5"}, "transform": [{"filter": "datum.k=='x'"}], "mark": {"type": "point", "shape": "M-1,-1L1,1M-1,1L1,-1", "filled": false, "color": "#000000", "strokeWidth": 1.5, "size": 13, "opacity": 1}, "encoding": {"x": {"field": "v", "type": "quantitative", "scale": {"domain": [-5, 1]}, "axis": null}, "y": {"field": "y", "type": "quantitative", "scale": {"domain": [-1.45, 1.45]}, "axis": null}}}
  ],
  "resolve": {"scale": {"x": "independent"}, "axis": {"y": "independent"}}
 },
 {"width": 124, "height": 145, "data": {"name": "c1"},
  "layer": [
   {"transform": [{"filter": "datum.k=='G'"}], "mark": {"type": "area", "color": "#8a8a8a", "opacity": 0.95}, "encoding": {"x": {"field": "y", "type": "quantitative", "scale": {"domain": [-1.5, 1.4]}, "axis": {"orient": "bottom", "values": [-1,-0.5,0,0.5,1], "labelExpr": "''+datum.value", "grid": true, "gridColor": "#cfcfcf", "gridWidth": 0.8, "domain": false, "ticks": false, "labelOverlap": false, "title": "y/D [-]", "titleFontSize": 14, "labelPadding": 6, "titlePadding": 3}}, "y": {"field": "v", "type": "quantitative", "scale": {"domain": [-0.2, 1], "reverse": true}, "axis": {"orient": "left", "values": [0, 0.5, 1], "labelExpr": "''+datum.value", "grid": true, "gridColor": "#cfcfcf", "gridWidth": 0.8, "domain": false, "ticks": false, "title": "(U∞−Uw)/U∞  [-]", "titleFontSize": 12, "labelPadding": 4, "titlePadding": 4}}, "y2": {"field": "h"}}},
   {"transform": [{"filter": "datum.k=='b'||datum.k=='r'||datum.k=='o'||datum.k=='c'"}], "mark": {"type": "line", "strokeWidth": 1.5, "clip": true}, "encoding": {"x": {"field": "y", "type": "quantitative", "scale": {"domain": [-1.5, 1.4]}, "axis": {"orient": "top", "values": [-1.5,-1.4,-1.3,-1.2,-1.1,-1,-0.9,-0.8,-0.7,-0.6,-0.5,-0.4,-0.3,-0.2,-0.1,0,0.1,0.2,0.3,0.4,0.5,0.6,0.7,0.8,0.9,1,1.1,1.2,1.3,1.4], "labels": false, "ticks": false, "domain": false, "grid": true, "gridDash": [1, 2], "gridColor": "#c4c4c4", "title": null}}, "y": {"field": "v", "type": "quantitative", "scale": {"domain": [-0.2, 1], "reverse": true}, "axis": {"orient": "right", "values": [-0.2,-0.1,0,0.1,0.2,0.3,0.4,0.5,0.6,0.7,0.8,0.9,1], "labels": false, "ticks": false, "domain": false, "grid": true, "gridDash": [1, 2], "gridColor": "#c4c4c4", "title": null}}, "color": {"field": "k", "type": "nominal", "scale": {"domain": ["b","r","o","c"], "range": ["#0000ff","#ff0000","#ff8000","#2a7a1a"]}, "legend": null}, "order": {"field": "y", "type": "quantitative"}}},
   {"transform": [{"filter": "datum.k=='x'"}], "mark": {"type": "point", "shape": "M-1,-1L1,1M-1,1L1,-1", "filled": false, "color": "#000000", "strokeWidth": 1.5, "size": 13, "opacity": 1, "clip": true}, "encoding": {"x": {"field": "y", "type": "quantitative", "scale": {"domain": [-1.5, 1.4]}, "axis": null}, "y": {"field": "v", "type": "quantitative", "scale": {"domain": [-0.2, 1], "reverse": true}, "axis": null}}},
   {"data": {"values": [{}]}, "mark": {"type": "text", "text": "1 D", "font": "DejaVu Serif", "fontWeight": "bold", "fontSize": 13, "baseline": "middle"}, "encoding": {"x": {"datum": 0, "type": "quantitative", "scale": {"domain": [-1.5, 1.4]}, "axis": null}, "y": {"datum": -0.1, "type": "quantitative", "scale": {"domain": [-0.2, 1], "reverse": true}, "axis": null}}}
  ],
  "resolve": {"axis": {"x": "independent", "y": "independent"}}
 },
 {"width": 611, "height": 80, "data": {"name": "leg"}, "view": {"stroke": null},
  "encoding": {
   "x": {"field": "c", "type": "ordinal", "scale": {"type": "point", "domain": [0, 1], "range": [-57, 587], "padding": 0}, "axis": null},
   "y": {"field": "r", "type": "ordinal", "scale": {"type": "point", "domain": [0, 1, 2], "range": [9, 73], "padding": 0}, "axis": null}
  },
  "layer": [
   {"transform": [{"filter": "datum.c==0"}], "mark": {"type": "text", "align": "left", "baseline": "middle", "font": "DejaVu Serif", "fontSize": 19.5, "color": "#000000"}, "encoding": {"text": {"field": "t"}}},
   {"transform": [{"filter": "datum.c==1"}], "mark": {"type": "text", "align": "left", "baseline": "middle", "font": "DejaVu Serif", "fontSize": 18.6, "color": "#000000", "limit": 285, "ellipsis": " "}, "encoding": {"text": {"field": "t"}}},
   {"transform": [{"filter": "datum.s=='x'"}], "mark": {"type": "point", "shape": "M-1,-1L1,1M-1,1L1,-1", "filled": false, "color": "#000000", "strokeWidth": 1.5, "size": 16, "opacity": 1, "xOffset": -22}},
   {"transform": [{"filter": "datum.s=='o'"}], "mark": {"type": "point", "shape": "circle", "filled": false, "color": "#000000", "size": 22, "strokeWidth": 0.8, "opacity": 1, "xOffset": -22}}
  ]
 }
],
"columns": 2,
"spacing": {"row": 105, "column": 137},
"bounds": "flush"
}
